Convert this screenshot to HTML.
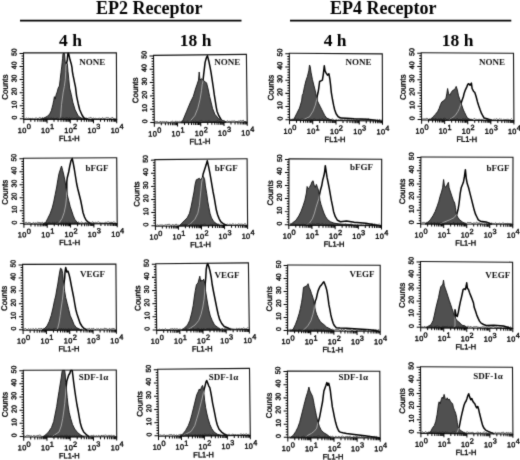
<!DOCTYPE html><html><head><meta charset="utf-8"><style>html,body{margin:0;padding:0;background:#fff;width:520px;height:460px;overflow:hidden}svg{display:block}</style></head><body>
<svg width="520" height="460" viewBox="0 0 520 460">
<defs><filter id="bl" x="0" y="0" width="520" height="460" filterUnits="userSpaceOnUse" color-interpolation-filters="sRGB"><feConvolveMatrix order="3" kernelMatrix="0.0200 0.0900 0.0200 0.0900 0.5600 0.0900 0.0200 0.0900 0.0200" edgeMode="duplicate"/></filter></defs>
<g filter="url(#bl)"><rect width="520" height="460" fill="#fff"/>
<defs>
<clipPath id="c00"><path d="M40 119.35 L41.1 119.3 L44.3 117.9 L47.4 116.3 L49.7 114 L51.3 110.8 L52.1 107.7 L52.9 104.6 L53.7 100.7 L54.4 96.7 L55.2 99.1 L56 95.2 L57.2 92 L58.2 88.1 L59.4 86 L60.2 79.4 L61 72.4 L61.8 66.1 L62.2 62.2 L62.6 58.3 L63 53.5 L64.5 53.5 L65.2 62 L65.8 63.7 L67.3 63.7 L68 71.6 L68.8 79.4 L69.6 88 L71.3 94.6 L72.8 102.2 L75.1 109.8 L78.2 115.9 L82 118.8 L85 119.35Z"/></clipPath>
<clipPath id="c01"><path d="M181 122.71 L183 120.1 L186.7 111.2 L190.4 102.3 L193.3 96.4 L195.5 89 L197 84.6 L198.5 80.1 L199.2 72 L200 80.1 L201.5 78.7 L203.7 80.9 L205.1 81.6 L206.6 83.1 L208.1 89 L209.6 96.4 L211.1 102.3 L212.5 108.3 L214.8 114.2 L218.5 118.6 L222.9 120.8 L226 122.23Z"/></clipPath>
<clipPath id="c02"><path d="M290 120.3 L293.7 119.6 L296.6 113.8 L299.5 108.1 L301.6 100.9 L302.3 95.2 L303.1 93.7 L304.5 86.6 L305.9 80.8 L307.4 76.5 L308.8 70.8 L309.5 65 L310.2 66.5 L311 72.2 L312.4 79.4 L313.8 85.1 L315.3 90.9 L316.4 96.6 L317.4 100.9 L318.8 103.8 L320.3 106.7 L321.7 109.5 L323.2 112.4 L324.6 115.3 L326.7 118.1 L330 119.5 L334 120.59Z"/></clipPath>
<clipPath id="c03"><path d="M428 120.04 L430.4 119.4 L433.1 116.7 L435.8 114 L437.8 111.3 L439.1 108.6 L440.5 104.6 L441.8 101.9 L443.8 100.6 L445.9 98.6 L446.8 93.8 L447.6 88.5 L448.6 93.8 L449.9 95.2 L451.2 92.5 L452.6 90.5 L453.9 89.8 L455.3 88.5 L456.2 86.4 L457.3 89.8 L458.4 95.2 L459.7 99.2 L460.7 101.9 L462 106 L463.4 110 L464.7 112.7 L466 115.4 L467.4 118.1 L470 119.5 L473 120.33Z"/></clipPath>
<clipPath id="c10"><path d="M43 224 L45.5 223 L47.7 218.5 L50 214 L52.2 208 L53.7 202 L55.2 194.5 L56.7 187 L57.9 179.5 L59 173.5 L60.5 169 L61.5 166 L62.7 170.5 L63.8 175 L65 181 L66.2 188.5 L67.2 194.5 L68.7 200.5 L70.2 206.5 L71.7 211 L73.2 215.5 L74.7 219.2 L77 222.2 L80 223.8Z"/></clipPath>
<clipPath id="c11"><path d="M179 225.97 L181.1 224 L184.1 220.9 L187.2 217.9 L189.5 213.3 L191 207.2 L192.5 199.6 L194 192 L195.1 184.4 L196.3 179.8 L197.8 179.1 L199.4 178.3 L200.9 179.8 L202.4 177.5 L203.6 176.8 L204.7 179.8 L205.4 185.9 L206.7 193.5 L207.7 201.1 L208.8 207.2 L210 213.3 L211.5 217.9 L213.8 221.7 L216.9 224 L220 225.57Z"/></clipPath>
<clipPath id="c12"><path d="M290 225.21 L292.3 223.1 L295.9 220.3 L298.8 216 L300.9 211.7 L303.1 205.9 L304.9 200.2 L306.4 193 L307.1 186.5 L308.1 188.7 L309.5 187.3 L311 184.4 L312.1 181.5 L313.1 180.8 L314.1 185.1 L315.3 187.3 L316.4 184.4 L317.4 187.3 L318.4 190.1 L319.3 194.4 L319.9 200.2 L321 204.5 L322.4 208.8 L323.9 213.1 L325.6 216.7 L327.5 219.5 L330.3 221.7 L333.9 223.1 L340 224 L350 224.5 L356 225.49Z"/></clipPath>
<clipPath id="c13"><path d="M425 224.01 L427.6 222.6 L430.3 219.8 L433.1 215.6 L435.2 211.5 L437.3 205.9 L438.7 201.7 L440.1 196.2 L441.5 192 L442.6 187.8 L443.6 179.5 L444.5 186.4 L445.9 187.1 L447 185 L448.4 182.3 L449.1 187.8 L450.5 192 L451.9 196.2 L453.3 200.3 L454.7 203.1 L455.4 207.3 L456.1 212.9 L457.5 217 L459.6 219.8 L462.3 221.9 L466 224.15Z"/></clipPath>
<clipPath id="c20"><path d="M42 330.24 L44 329 L47 326 L49.2 321.5 L51.2 315.5 L53 308 L54.5 300.5 L55.7 296 L56.7 290 L57.8 284 L58.7 278 L59.7 272 L60.5 268.2 L61.7 269 L62.7 273.5 L63.2 279.5 L63.8 285.5 L64.7 291.5 L65.7 297.5 L67.2 303.5 L68.7 309.5 L70.2 315.5 L72.2 320 L74 324.5 L76.2 327.5 L79.2 329 L82 330.11Z"/></clipPath>
<clipPath id="c21"><path d="M182 330.18 L184.5 328 L187.5 325 L189.7 320.5 L191.7 313 L193.2 305.5 L194.2 298 L195.3 290.5 L196.5 284.5 L198 283 L199.2 278.5 L199.8 276.2 L200.7 281.5 L201.7 280 L202.8 280.7 L203.7 279.2 L204.7 283 L205.5 290.5 L206.7 298 L207.7 304 L208.8 310 L210.3 316 L212.2 320.5 L214.5 325 L217.5 327.2 L221 329.84Z"/></clipPath>
<clipPath id="c22"><path d="M290 330.91 L293 329.5 L295.4 324.6 L297.3 319.6 L299.2 313.4 L300.4 308.5 L301.6 302.3 L302.6 296.1 L303.1 291.1 L303.5 287.4 L304.7 286.8 L306 286.2 L307.2 285.5 L308.1 283.7 L309.1 287.4 L310.3 289.9 L311.5 293.6 L312.8 297.3 L313.8 301 L314.6 306 L315.5 310.9 L316.7 314.7 L318.4 318.4 L320.2 321.5 L322.1 323.3 L323.9 324.6 L326.4 327 L330.1 328.9 L334 331.05Z"/></clipPath>
<clipPath id="c23"><path d="M426 327.74 L428.4 326.5 L431.1 324.5 L433.1 320.5 L434.4 315.1 L435.8 308.3 L437.1 303 L438.5 297.6 L439.8 290.8 L440.8 286.8 L441.8 285.5 L442.9 284.1 L443.5 280.1 L444.3 285.5 L445.2 288.2 L446.6 292.2 L447.9 296.2 L449.2 300.3 L450.6 304.3 L451.9 308.3 L453.3 312.4 L454.6 316.4 L456 319.1 L457.3 321.1 L458.7 321.8 L460 323.1 L462 325.2 L464.7 325.8 L468 328.06Z"/></clipPath>
<clipPath id="c30"><path d="M43 436.96 L45.5 435 L48.5 432 L51.5 427.5 L53.7 421.5 L55.2 414 L56.7 406.5 L57.8 399 L59 391.5 L60.2 384 L61.2 378 L62 372 L62.4 370.42 L64.7 370.41 L65.3 375 L65.7 382.5 L66.5 390 L67.2 397.5 L68 405 L69.2 412.5 L70.7 418.5 L72.5 424.5 L74.7 429 L77.7 432.7 L80.7 435 L84 436.87Z"/></clipPath>
<clipPath id="c31"><path d="M180 436.09 L182.7 434.2 L185.5 430.7 L188.3 425.7 L190.4 420.1 L191.9 414.4 L193.3 408.8 L194.7 403.1 L195.7 398.9 L196.8 394.6 L198.2 391.8 L199.3 389 L200.3 390.4 L201.3 387.6 L202.5 385.4 L203.2 387.6 L203.9 393.2 L204.6 400.3 L205.6 407.4 L206.7 413 L208.1 418.7 L209.8 424.3 L211.7 428.6 L214.1 432.1 L217.3 434.2 L221 435.69Z"/></clipPath>
<clipPath id="c32"><path d="M290 437.8 L293.2 435.4 L295.8 431.5 L297.8 427.5 L299.7 422.3 L301 417.1 L302.3 411.9 L303.6 406.7 L304.9 401.5 L306.3 396.3 L307.6 392.3 L308.9 387.1 L309.9 391 L311.2 393.6 L312.5 396.3 L313.4 400.2 L314.3 405.4 L315.4 410.6 L316.4 415.8 L317.7 421 L319.3 426.2 L321.2 430.2 L323.9 432.8 L327.1 434.7 L331 437.85Z"/></clipPath>
<clipPath id="c33"><path d="M427 433.44 L430.4 432.1 L432.4 428.1 L434.4 425.4 L435.8 421.3 L437.1 414.6 L437.8 409.2 L438.5 403.8 L439.1 401.8 L440.1 403.8 L441.2 399.8 L442.2 397.1 L443.2 398.5 L444.1 394.4 L445.2 398.5 L446.3 399.8 L447.2 397.8 L448.1 399.8 L449.2 399.1 L450.3 401.2 L451.4 402.5 L452.6 403.8 L453.5 407.9 L454.6 410.6 L455.7 413.3 L456.6 417.3 L457.3 422.7 L458 426.7 L459.3 429.4 L462 431.4 L466 433.69Z"/></clipPath>
</defs>
<text x="96" y="14" style="font-family:&quot;Liberation Serif&quot;,serif;font-weight:bold;font-size:18px" fill="#000">EP2 Receptor</text>
<text x="330" y="14" style="font-family:&quot;Liberation Serif&quot;,serif;font-weight:bold;font-size:18px" fill="#000">EP4 Receptor</text>
<path d="M20 20.6H241.5M290 20.6H511.3" stroke="#000" stroke-width="1.7"/>
<text x="59.1" y="46.2" style="font-family:&quot;Liberation Serif&quot;,serif;font-weight:bold;font-size:17.5px" fill="#000">4 h</text>
<text x="179.8" y="46.2" style="font-family:&quot;Liberation Serif&quot;,serif;font-weight:bold;font-size:17.5px" fill="#000">18 h</text>
<text x="323.7" y="46.2" style="font-family:&quot;Liberation Serif&quot;,serif;font-weight:bold;font-size:17.5px" fill="#000">4 h</text>
<text x="441.8" y="46.2" style="font-family:&quot;Liberation Serif&quot;,serif;font-weight:bold;font-size:17.5px" fill="#000">18 h</text>
<g><path d="M57 119.35 L59.5 118.8 L60.7 116.3 L61.5 104.6 L63.1 92.8 L64.3 86.5 L65.3 79.4 L65.7 71.6 L65.9 66.1 L66.5 63.7 L67.3 60 L67.6 56 L68 53.3 L68.6 53.3 L70 59.8 L71.2 63.7 L72 67.7 L72.4 71.6 L73.1 75.5 L73.9 79.4 L74.7 83.3 L75.5 87.2 L76.6 96.1 L78.2 103.7 L79.7 109.8 L82 115 L84.25 118.5 L88 119.35" fill="none" stroke="#000" stroke-width="1.5" stroke-linejoin="round"/><path d="M40 119.35 L41.1 119.3 L44.3 117.9 L47.4 116.3 L49.7 114 L51.3 110.8 L52.1 107.7 L52.9 104.6 L53.7 100.7 L54.4 96.7 L55.2 99.1 L56 95.2 L57.2 92 L58.2 88.1 L59.4 86 L60.2 79.4 L61 72.4 L61.8 66.1 L62.2 62.2 L62.6 58.3 L63 53.5 L64.5 53.5 L65.2 62 L65.8 63.7 L67.3 63.7 L68 71.6 L68.8 79.4 L69.6 88 L71.3 94.6 L72.8 102.2 L75.1 109.8 L78.2 115.9 L82 118.8 L85 119.35Z" fill="#505050" stroke="#111" stroke-width="0.9" stroke-linejoin="round"/><path d="M57 119.35 L59.5 118.8 L60.7 116.3 L61.5 104.6 L63.1 92.8 L64.3 86.5 L65.3 79.4 L65.7 71.6 L65.9 66.1 L66.5 63.7 L67.3 60 L67.6 56 L68 53.3 L68.6 53.3 L70 59.8 L71.2 63.7 L72 67.7 L72.4 71.6 L73.1 75.5 L73.9 79.4 L74.7 83.3 L75.5 87.2 L76.6 96.1 L78.2 103.7 L79.7 109.8 L82 115 L84.25 118.5 L88 119.35" fill="none" stroke="#bdbdbd" stroke-width="0.8" clip-path="url(#c00)"/><path d="M24.6 118.46 L25.5 118.72 L26.4 117.97 L27.3 118.84 L28.2 118.15 L29.1 118.4 L30 118.86 L30.9 118.19 L31.8 118.89 L32.7 118.3 L33.6 118.85 L34.5 118.81 L35.4 118.31 L36.3 117.71 L37.2 118.76 L38.1 118.62 L39 118.01 L39.9 117.53 L40.8 118.08 L41.7 118.35 L42.6 117.49 L43.5 118.88 L44.4 117.66 L45.3 118.52 L46.2 118.73 L47.1 118.77 L48 118.49 L48.9 117.73 L49.8 118.68 L50.7 118.08 L51.6 117.99 L52.5 118.39 L53.4 118.13 L54.3 118.86 L55.2 118.86 L56.1 118.64 L57 117.93 L57.9 118.31 L58.8 118.48 L59.7 118.07 L60.6 118.27 L61.5 118.5 L62.4 117.76 L63.3 117.9 L64.2 118.58 L65.1 118.09 L66 118.16 L66.9 117.64 L67.8 117.86 L68.7 118.52 L69.6 117.48 L70.5 118.77 L71.4 118.32 L72.3 117.81 L73.2 118.72 L74.1 118.22 L75 118.89 L75.9 117.95 L76.8 117.8 L77.7 118.09 L78.6 117.64 L79.5 118.48 L80.4 117.91 L81.3 118.06 L82.2 118.08 L83.1 118.27 L84 117.69 L84.9 117.53 L85.8 118.24 L86.7 117.95 L87.6 118.86 L88.5 117.9 L89.4 117.98 L90.3 117.46 L91.2 117.72 L92.1 118.52 L93 118.37 L93.9 117.95 L94.8 118.92 L95.7 118.26 L96.6 118.7 L97.5 118.77 L98.4 118.86 L99.3 117.8 L100.2 118.76 L101.1 118.58 L102 118.36 L102.9 117.64 L103.8 118.83 L104.7 118.28 L105.6 118.13 L106.5 117.62 L107.4 117.72 L108.3 117.65 L109.2 118.53 L110.1 118.33 L111 118.41 L111.9 117.62 L112.8 117.51 L113.7 118.72 L114.6 118.69 L115.5 118.6" fill="none" stroke="#222" stroke-width="0.7"/></g>
<g transform="matrix(1.00216 0.00000 0.00451 0.99925 23.50000 52.90000)"><rect x="0" y="0" width="92.7" height="66.5" fill="none" stroke="#111" stroke-width="1.1"/><path d="M-4 66H0M-2 63.38H0M-2 60.76H0M-2 58.14H0M-2 55.52H0M-4 52.9H0M-2 50.28H0M-2 47.66H0M-2 45.04H0M-2 42.42H0M-4 39.8H0M-2 37.18H0M-2 34.56H0M-2 31.94H0M-2 29.32H0M-4 26.7H0M-2 24.08H0M-2 21.46H0M-2 18.84H0M-2 16.22H0M-4 13.6H0M-2 10.98H0M-2 8.36H0M-2 5.74H0M-2 3.12H0M-4 0.5H0M0 66.5V70.3M6.98 66.5V68.9M11.06 66.5V68.9M13.95 66.5V68.9M16.2 66.5V68.9M18.03 66.5V68.9M19.59 66.5V68.9M20.93 66.5V68.9M22.11 66.5V68.9M23.18 66.5V70.3M30.15 66.5V68.9M34.23 66.5V68.9M37.13 66.5V68.9M39.37 66.5V68.9M41.21 66.5V68.9M42.76 66.5V68.9M44.1 66.5V68.9M45.29 66.5V68.9M46.35 66.5V70.3M53.33 66.5V68.9M57.41 66.5V68.9M60.3 66.5V68.9M62.55 66.5V68.9M64.38 66.5V68.9M65.94 66.5V68.9M67.28 66.5V68.9M68.46 66.5V68.9M69.53 66.5V70.3M76.5 66.5V68.9M80.58 66.5V68.9M83.48 66.5V68.9M85.72 66.5V68.9M87.56 66.5V68.9M89.11 66.5V68.9M90.45 66.5V68.9M91.64 66.5V68.9M92.7 66.5V70.3" stroke="#000" stroke-width="1" fill="none"/><text transform="translate(-7.1 64.8) rotate(-90)" text-anchor="middle" style="font-family:&quot;Liberation Sans&quot;,sans-serif;stroke:#000;stroke-width:0.35px;font-size:7px" fill="#000">0</text><text transform="translate(-7.1 51.7) rotate(-90)" text-anchor="middle" style="font-family:&quot;Liberation Sans&quot;,sans-serif;stroke:#000;stroke-width:0.35px;font-size:7px" fill="#000">10</text><text transform="translate(-7.1 38.6) rotate(-90)" text-anchor="middle" style="font-family:&quot;Liberation Sans&quot;,sans-serif;stroke:#000;stroke-width:0.35px;font-size:7px" fill="#000">20</text><text transform="translate(-7.1 25.5) rotate(-90)" text-anchor="middle" style="font-family:&quot;Liberation Sans&quot;,sans-serif;stroke:#000;stroke-width:0.35px;font-size:7px" fill="#000">30</text><text transform="translate(-7.1 12.4) rotate(-90)" text-anchor="middle" style="font-family:&quot;Liberation Sans&quot;,sans-serif;stroke:#000;stroke-width:0.35px;font-size:7px" fill="#000">40</text><text transform="translate(-7.1 -0.7) rotate(-90)" text-anchor="middle" style="font-family:&quot;Liberation Sans&quot;,sans-serif;stroke:#000;stroke-width:0.35px;font-size:7px" fill="#000">50</text><text transform="translate(-15.9 34.25) rotate(-90)" text-anchor="middle" style="font-family:&quot;Liberation Sans&quot;,sans-serif;stroke:#000;stroke-width:0.35px;font-size:8px" fill="#000">Counts</text><text x="0.6" y="79.8" text-anchor="middle" style="font-family:&quot;Liberation Sans&quot;,sans-serif;stroke:#000;stroke-width:0.35px;font-size:7.4px;letter-spacing:0.35px" fill="#000">10<tspan dy="-3.6">0</tspan></text><text x="23.78" y="79.8" text-anchor="middle" style="font-family:&quot;Liberation Sans&quot;,sans-serif;stroke:#000;stroke-width:0.35px;font-size:7.4px;letter-spacing:0.35px" fill="#000">10<tspan dy="-3.6">1</tspan></text><text x="46.95" y="79.8" text-anchor="middle" style="font-family:&quot;Liberation Sans&quot;,sans-serif;stroke:#000;stroke-width:0.35px;font-size:7.4px;letter-spacing:0.35px" fill="#000">10<tspan dy="-3.6">2</tspan></text><text x="70.12" y="79.8" text-anchor="middle" style="font-family:&quot;Liberation Sans&quot;,sans-serif;stroke:#000;stroke-width:0.35px;font-size:7.4px;letter-spacing:0.35px" fill="#000">10<tspan dy="-3.6">3</tspan></text><text x="93.3" y="79.8" text-anchor="middle" style="font-family:&quot;Liberation Sans&quot;,sans-serif;stroke:#000;stroke-width:0.35px;font-size:7.4px;letter-spacing:0.35px" fill="#000">10<tspan dy="-3.6">4</tspan></text><text x="45.35" y="87.8" text-anchor="middle" style="font-family:&quot;Liberation Sans&quot;,sans-serif;stroke:#000;stroke-width:0.35px;font-size:7.5px" fill="#000">FL1-H</text></g>
<text x="79.2" y="65" style="font-family:&quot;Liberation Serif&quot;,serif;font-weight:bold;font-size:9px" fill="#111">NONE</text>
<g><path d="M188 122.64 L190.4 120.8 L194.8 115.7 L197.8 108.3 L200 99.4 L201.5 90.5 L202.2 84.6 L202.9 81.6 L203.7 74.2 L204.4 68.3 L205.1 62.4 L206.3 58 L207.4 55.7 L208.8 60.9 L210.3 68.3 L211.1 72.8 L212.2 80.1 L213.3 87.5 L214.3 94.9 L215.5 102.3 L216.2 106.8 L217 111.2 L218.8 115.7 L221.4 120.1 L225 122.24" fill="none" stroke="#000" stroke-width="1.5" stroke-linejoin="round"/><path d="M181 122.71 L183 120.1 L186.7 111.2 L190.4 102.3 L193.3 96.4 L195.5 89 L197 84.6 L198.5 80.1 L199.2 72 L200 80.1 L201.5 78.7 L203.7 80.9 L205.1 81.6 L206.6 83.1 L208.1 89 L209.6 96.4 L211.1 102.3 L212.5 108.3 L214.8 114.2 L218.5 118.6 L222.9 120.8 L226 122.23Z" fill="#505050" stroke="#111" stroke-width="0.9" stroke-linejoin="round"/><path d="M188 122.64 L190.4 120.8 L194.8 115.7 L197.8 108.3 L200 99.4 L201.5 90.5 L202.2 84.6 L202.9 81.6 L203.7 74.2 L204.4 68.3 L205.1 62.4 L206.3 58 L207.4 55.7 L208.8 60.9 L210.3 68.3 L211.1 72.8 L212.2 80.1 L213.3 87.5 L214.3 94.9 L215.5 102.3 L216.2 106.8 L217 111.2 L218.8 115.7 L221.4 120.1 L225 122.24" fill="none" stroke="#bdbdbd" stroke-width="0.8" clip-path="url(#c01)"/><path d="M155.1 122.25 L156 121.14 L156.9 122.38 L157.8 121.51 L158.7 122.42 L159.6 122.17 L160.5 121.03 L161.4 122.21 L162.3 121.55 L163.2 121.82 L164.1 121.81 L165 121.74 L165.9 122.19 L166.8 121.22 L167.7 122.32 L168.6 122.09 L169.5 122.41 L170.4 122.03 L171.3 121.81 L172.2 121.05 L173.1 121.83 L174 122.22 L174.9 121.99 L175.8 120.88 L176.7 122.26 L177.6 121.42 L178.5 121.77 L179.4 121.34 L180.3 121.81 L181.2 121.27 L182.1 121.55 L183 121.32 L183.9 120.93 L184.8 121.4 L185.7 122.05 L186.6 122.16 L187.5 120.82 L188.4 121.5 L189.3 121.93 L190.2 120.79 L191.1 121.34 L192 121.1 L192.9 120.86 L193.8 121.75 L194.7 121.63 L195.6 120.84 L196.5 121.94 L197.4 120.99 L198.3 121.98 L199.2 121.08 L200.1 121.05 L201 120.67 L201.9 120.82 L202.8 121.32 L203.7 121.77 L204.6 121.83 L205.5 121.26 L206.4 121.27 L207.3 121.92 L208.2 120.66 L209.1 121.25 L210 120.95 L210.9 121.66 L211.8 121.62 L212.7 121.95 L213.6 121.45 L214.5 121.55 L215.4 121.31 L216.3 121.37 L217.2 120.67 L218.1 120.58 L219 121.64 L219.9 121.3 L220.8 121.63 L221.7 120.88 L222.6 120.4 L223.5 121.55 L224.4 120.7 L225.3 121.39 L226.2 121.81 L227.1 120.67 L228 121.29 L228.9 121.54 L229.8 121.13 L230.7 121.43 L231.6 121.15 L232.5 121.09 L233.4 121.12 L234.3 120.86 L235.2 121.3 L236.1 121.58 L237 121.58 L237.9 121.54 L238.8 120.91 L239.7 121.14 L240.6 120.46 L241.5 120.9 L242.4 120.59 L243.3 120.17 L244.2 121.54 L245.1 121.6 L246 121.4" fill="none" stroke="#222" stroke-width="0.7"/></g>
<g transform="matrix(1.00216 -0.01079 0.01203 1.01654 153.50000 55.40000)"><rect x="0" y="0" width="92.7" height="66.5" fill="none" stroke="#111" stroke-width="1.1"/><path d="M-4 66H0M-2 63.38H0M-2 60.76H0M-2 58.14H0M-2 55.52H0M-4 52.9H0M-2 50.28H0M-2 47.66H0M-2 45.04H0M-2 42.42H0M-4 39.8H0M-2 37.18H0M-2 34.56H0M-2 31.94H0M-2 29.32H0M-4 26.7H0M-2 24.08H0M-2 21.46H0M-2 18.84H0M-2 16.22H0M-4 13.6H0M-2 10.98H0M-2 8.36H0M-2 5.74H0M-2 3.12H0M-4 0.5H0M0 66.5V70.3M6.98 66.5V68.9M11.06 66.5V68.9M13.95 66.5V68.9M16.2 66.5V68.9M18.03 66.5V68.9M19.59 66.5V68.9M20.93 66.5V68.9M22.11 66.5V68.9M23.18 66.5V70.3M30.15 66.5V68.9M34.23 66.5V68.9M37.13 66.5V68.9M39.37 66.5V68.9M41.21 66.5V68.9M42.76 66.5V68.9M44.1 66.5V68.9M45.29 66.5V68.9M46.35 66.5V70.3M53.33 66.5V68.9M57.41 66.5V68.9M60.3 66.5V68.9M62.55 66.5V68.9M64.38 66.5V68.9M65.94 66.5V68.9M67.28 66.5V68.9M68.46 66.5V68.9M69.53 66.5V70.3M76.5 66.5V68.9M80.58 66.5V68.9M83.48 66.5V68.9M85.72 66.5V68.9M87.56 66.5V68.9M89.11 66.5V68.9M90.45 66.5V68.9M91.64 66.5V68.9M92.7 66.5V70.3" stroke="#000" stroke-width="1" fill="none"/><text transform="translate(-7.1 64.8) rotate(-90)" text-anchor="middle" style="font-family:&quot;Liberation Sans&quot;,sans-serif;stroke:#000;stroke-width:0.35px;font-size:7px" fill="#000">0</text><text transform="translate(-7.1 51.7) rotate(-90)" text-anchor="middle" style="font-family:&quot;Liberation Sans&quot;,sans-serif;stroke:#000;stroke-width:0.35px;font-size:7px" fill="#000">10</text><text transform="translate(-7.1 38.6) rotate(-90)" text-anchor="middle" style="font-family:&quot;Liberation Sans&quot;,sans-serif;stroke:#000;stroke-width:0.35px;font-size:7px" fill="#000">20</text><text transform="translate(-7.1 25.5) rotate(-90)" text-anchor="middle" style="font-family:&quot;Liberation Sans&quot;,sans-serif;stroke:#000;stroke-width:0.35px;font-size:7px" fill="#000">30</text><text transform="translate(-7.1 12.4) rotate(-90)" text-anchor="middle" style="font-family:&quot;Liberation Sans&quot;,sans-serif;stroke:#000;stroke-width:0.35px;font-size:7px" fill="#000">40</text><text transform="translate(-7.1 -0.7) rotate(-90)" text-anchor="middle" style="font-family:&quot;Liberation Sans&quot;,sans-serif;stroke:#000;stroke-width:0.35px;font-size:7px" fill="#000">50</text><text transform="translate(-15.9 34.25) rotate(-90)" text-anchor="middle" style="font-family:&quot;Liberation Sans&quot;,sans-serif;stroke:#000;stroke-width:0.35px;font-size:8px" fill="#000">Counts</text><text x="0.6" y="79.8" text-anchor="middle" style="font-family:&quot;Liberation Sans&quot;,sans-serif;stroke:#000;stroke-width:0.35px;font-size:7.4px;letter-spacing:0.35px" fill="#000">10<tspan dy="-3.6">0</tspan></text><text x="23.78" y="79.8" text-anchor="middle" style="font-family:&quot;Liberation Sans&quot;,sans-serif;stroke:#000;stroke-width:0.35px;font-size:7.4px;letter-spacing:0.35px" fill="#000">10<tspan dy="-3.6">1</tspan></text><text x="46.95" y="79.8" text-anchor="middle" style="font-family:&quot;Liberation Sans&quot;,sans-serif;stroke:#000;stroke-width:0.35px;font-size:7.4px;letter-spacing:0.35px" fill="#000">10<tspan dy="-3.6">2</tspan></text><text x="70.12" y="79.8" text-anchor="middle" style="font-family:&quot;Liberation Sans&quot;,sans-serif;stroke:#000;stroke-width:0.35px;font-size:7.4px;letter-spacing:0.35px" fill="#000">10<tspan dy="-3.6">3</tspan></text><text x="93.3" y="79.8" text-anchor="middle" style="font-family:&quot;Liberation Sans&quot;,sans-serif;stroke:#000;stroke-width:0.35px;font-size:7.4px;letter-spacing:0.35px" fill="#000">10<tspan dy="-3.6">4</tspan></text><text x="45.35" y="87.8" text-anchor="middle" style="font-family:&quot;Liberation Sans&quot;,sans-serif;stroke:#000;stroke-width:0.35px;font-size:7.5px" fill="#000">FL1-H</text></g>
<text x="214.2" y="64.6" style="font-family:&quot;Liberation Serif&quot;,serif;font-weight:bold;font-size:9px" fill="#111">NONE</text>
<g><path d="M300 120.37 L303.8 119.6 L309.5 116.7 L313.1 111 L315.3 105.2 L316.7 99.5 L317.4 95.2 L318.1 92.3 L318.8 88 L319.6 81.5 L321 80.8 L322.4 80.1 L323.2 75.1 L323.9 69.3 L324.3 65.8 L325 70.8 L326 72.9 L327.5 75.1 L328.9 73.7 L329.9 79.4 L330.6 85.1 L331.3 92.3 L332.5 99.5 L333.6 105.2 L334.6 109.5 L336.1 113.8 L338.2 116.7 L341.1 118.1 L346.5 118.3 L354.2 118.8 L367.7 119.2 L380 120.88" fill="none" stroke="#000" stroke-width="1.5" stroke-linejoin="round"/><path d="M290 120.3 L293.7 119.6 L296.6 113.8 L299.5 108.1 L301.6 100.9 L302.3 95.2 L303.1 93.7 L304.5 86.6 L305.9 80.8 L307.4 76.5 L308.8 70.8 L309.5 65 L310.2 66.5 L311 72.2 L312.4 79.4 L313.8 85.1 L315.3 90.9 L316.4 96.6 L317.4 100.9 L318.8 103.8 L320.3 106.7 L321.7 109.5 L323.2 112.4 L324.6 115.3 L326.7 118.1 L330 119.5 L334 120.59Z" fill="#505050" stroke="#111" stroke-width="0.9" stroke-linejoin="round"/><path d="M300 120.37 L303.8 119.6 L309.5 116.7 L313.1 111 L315.3 105.2 L316.7 99.5 L317.4 95.2 L318.1 92.3 L318.8 88 L319.6 81.5 L321 80.8 L322.4 80.1 L323.2 75.1 L323.9 69.3 L324.3 65.8 L325 70.8 L326 72.9 L327.5 75.1 L328.9 73.7 L329.9 79.4 L330.6 85.1 L331.3 92.3 L332.5 99.5 L333.6 105.2 L334.6 109.5 L336.1 113.8 L338.2 116.7 L341.1 118.1 L346.5 118.3 L354.2 118.8 L367.7 119.2 L380 120.88" fill="none" stroke="#bdbdbd" stroke-width="0.8" clip-path="url(#c02)"/><path d="M290.3 119.21 L291.2 119.35 L292.1 119.71 L293 118.62 L293.9 119.92 L294.8 119.18 L295.7 118.59 L296.6 119.82 L297.5 119.12 L298.4 119.03 L299.3 119.9 L300.2 119.4 L301.1 118.92 L302 119.3 L302.9 118.9 L303.8 119.76 L304.7 119.64 L305.6 119.84 L306.5 119.25 L307.4 118.63 L308.3 119.14 L309.2 118.87 L310.1 119.46 L311 118.92 L311.9 119.89 L312.8 119.61 L313.7 119.04 L314.6 118.97 L315.5 119.44 L316.4 119.94 L317.3 119.68 L318.2 119.77 L319.1 119.67 L320 118.88 L320.9 119.8 L321.8 118.78 L322.7 118.8 L323.6 120.04 L324.5 119.56 L325.4 119.39 L326.3 120.1 L327.2 119.51 L328.1 118.79 L329 119.99 L329.9 119.27 L330.8 119.98 L331.7 119.3 L332.6 118.84 L333.5 119.88 L334.4 120.18 L335.3 120.07 L336.2 119.39 L337.1 120.18 L338 120.09 L338.9 119.47 L339.8 118.84 L340.7 119.6 L341.6 119.64 L342.5 119.28 L343.4 120.11 L344.3 119.38 L345.2 120 L346.1 119.35 L347 118.83 L347.9 120.2 L348.8 119.45 L349.7 119.38 L350.6 120.07 L351.5 119.9 L352.4 118.81 L353.3 118.81 L354.2 120.14 L355.1 119.27 L356 118.9 L356.9 119.98 L357.8 119.42 L358.7 120.28 L359.6 119.8 L360.5 119.35 L361.4 119.48 L362.3 119.21 L363.2 120.25 L364.1 119.86 L365 119.09 L365.9 119.52 L366.8 119.72 L367.7 119.8 L368.6 118.93 L369.5 119.55 L370.4 120.39 L371.3 119.23 L372.2 119.94 L373.1 119.79 L374 120.13 L374.9 119.78 L375.8 119.97 L376.7 120.33 L377.6 119.52 L378.5 120.32 L379.4 119.3 L380.3 120.45 L381.2 119.32" fill="none" stroke="#222" stroke-width="0.7"/></g>
<g transform="matrix(1.00324 0.00647 0.00301 1.00752 289.30000 53.30000)"><rect x="0" y="0" width="92.7" height="66.5" fill="none" stroke="#111" stroke-width="1.1"/><path d="M-4 66H0M-2 63.38H0M-2 60.76H0M-2 58.14H0M-2 55.52H0M-4 52.9H0M-2 50.28H0M-2 47.66H0M-2 45.04H0M-2 42.42H0M-4 39.8H0M-2 37.18H0M-2 34.56H0M-2 31.94H0M-2 29.32H0M-4 26.7H0M-2 24.08H0M-2 21.46H0M-2 18.84H0M-2 16.22H0M-4 13.6H0M-2 10.98H0M-2 8.36H0M-2 5.74H0M-2 3.12H0M-4 0.5H0M0 66.5V70.3M6.98 66.5V68.9M11.06 66.5V68.9M13.95 66.5V68.9M16.2 66.5V68.9M18.03 66.5V68.9M19.59 66.5V68.9M20.93 66.5V68.9M22.11 66.5V68.9M23.18 66.5V70.3M30.15 66.5V68.9M34.23 66.5V68.9M37.13 66.5V68.9M39.37 66.5V68.9M41.21 66.5V68.9M42.76 66.5V68.9M44.1 66.5V68.9M45.29 66.5V68.9M46.35 66.5V70.3M53.33 66.5V68.9M57.41 66.5V68.9M60.3 66.5V68.9M62.55 66.5V68.9M64.38 66.5V68.9M65.94 66.5V68.9M67.28 66.5V68.9M68.46 66.5V68.9M69.53 66.5V70.3M76.5 66.5V68.9M80.58 66.5V68.9M83.48 66.5V68.9M85.72 66.5V68.9M87.56 66.5V68.9M89.11 66.5V68.9M90.45 66.5V68.9M91.64 66.5V68.9M92.7 66.5V70.3" stroke="#000" stroke-width="1" fill="none"/><text transform="translate(-7.1 64.8) rotate(-90)" text-anchor="middle" style="font-family:&quot;Liberation Sans&quot;,sans-serif;stroke:#000;stroke-width:0.35px;font-size:7px" fill="#000">0</text><text transform="translate(-7.1 51.7) rotate(-90)" text-anchor="middle" style="font-family:&quot;Liberation Sans&quot;,sans-serif;stroke:#000;stroke-width:0.35px;font-size:7px" fill="#000">10</text><text transform="translate(-7.1 38.6) rotate(-90)" text-anchor="middle" style="font-family:&quot;Liberation Sans&quot;,sans-serif;stroke:#000;stroke-width:0.35px;font-size:7px" fill="#000">20</text><text transform="translate(-7.1 25.5) rotate(-90)" text-anchor="middle" style="font-family:&quot;Liberation Sans&quot;,sans-serif;stroke:#000;stroke-width:0.35px;font-size:7px" fill="#000">30</text><text transform="translate(-7.1 12.4) rotate(-90)" text-anchor="middle" style="font-family:&quot;Liberation Sans&quot;,sans-serif;stroke:#000;stroke-width:0.35px;font-size:7px" fill="#000">40</text><text transform="translate(-7.1 -0.7) rotate(-90)" text-anchor="middle" style="font-family:&quot;Liberation Sans&quot;,sans-serif;stroke:#000;stroke-width:0.35px;font-size:7px" fill="#000">50</text><text transform="translate(-15.9 34.25) rotate(-90)" text-anchor="middle" style="font-family:&quot;Liberation Sans&quot;,sans-serif;stroke:#000;stroke-width:0.35px;font-size:8px" fill="#000">Counts</text><text x="0.6" y="79.8" text-anchor="middle" style="font-family:&quot;Liberation Sans&quot;,sans-serif;stroke:#000;stroke-width:0.35px;font-size:7.4px;letter-spacing:0.35px" fill="#000">10<tspan dy="-3.6">0</tspan></text><text x="23.78" y="79.8" text-anchor="middle" style="font-family:&quot;Liberation Sans&quot;,sans-serif;stroke:#000;stroke-width:0.35px;font-size:7.4px;letter-spacing:0.35px" fill="#000">10<tspan dy="-3.6">1</tspan></text><text x="46.95" y="79.8" text-anchor="middle" style="font-family:&quot;Liberation Sans&quot;,sans-serif;stroke:#000;stroke-width:0.35px;font-size:7.4px;letter-spacing:0.35px" fill="#000">10<tspan dy="-3.6">2</tspan></text><text x="70.12" y="79.8" text-anchor="middle" style="font-family:&quot;Liberation Sans&quot;,sans-serif;stroke:#000;stroke-width:0.35px;font-size:7.4px;letter-spacing:0.35px" fill="#000">10<tspan dy="-3.6">3</tspan></text><text x="93.3" y="79.8" text-anchor="middle" style="font-family:&quot;Liberation Sans&quot;,sans-serif;stroke:#000;stroke-width:0.35px;font-size:7.4px;letter-spacing:0.35px" fill="#000">10<tspan dy="-3.6">4</tspan></text><text x="45.35" y="87.8" text-anchor="middle" style="font-family:&quot;Liberation Sans&quot;,sans-serif;stroke:#000;stroke-width:0.35px;font-size:7.5px" fill="#000">FL1-H</text></g>
<text x="345.6" y="65" style="font-family:&quot;Liberation Serif&quot;,serif;font-weight:bold;font-size:9px" fill="#111">NONE</text>
<g><path d="M445 120.15 L447.9 120.1 L451.9 118.1 L455.3 115.4 L458 111.3 L459.3 108.6 L460.7 104.6 L462 100.6 L463.4 96.5 L464 93.8 L465.4 89.8 L466.7 87.1 L467.8 84.4 L468.7 83.7 L470.1 85.1 L471.4 83.1 L472.1 88.5 L473.5 91.2 L474.8 92.5 L476.1 96.5 L477.5 101.9 L478.8 106 L480.2 110 L481.5 113.4 L482.9 116 L484.2 118.1 L486.9 118.7 L492 120.46" fill="none" stroke="#000" stroke-width="1.5" stroke-linejoin="round"/><path d="M428 120.04 L430.4 119.4 L433.1 116.7 L435.8 114 L437.8 111.3 L439.1 108.6 L440.5 104.6 L441.8 101.9 L443.8 100.6 L445.9 98.6 L446.8 93.8 L447.6 88.5 L448.6 93.8 L449.9 95.2 L451.2 92.5 L452.6 90.5 L453.9 89.8 L455.3 88.5 L456.2 86.4 L457.3 89.8 L458.4 95.2 L459.7 99.2 L460.7 101.9 L462 106 L463.4 110 L464.7 112.7 L466 115.4 L467.4 118.1 L470 119.5 L473 120.33Z" fill="#505050" stroke="#111" stroke-width="0.9" stroke-linejoin="round"/><path d="M445 120.15 L447.9 120.1 L451.9 118.1 L455.3 115.4 L458 111.3 L459.3 108.6 L460.7 104.6 L462 100.6 L463.4 96.5 L464 93.8 L465.4 89.8 L466.7 87.1 L467.8 84.4 L468.7 83.7 L470.1 85.1 L471.4 83.1 L472.1 88.5 L473.5 91.2 L474.8 92.5 L476.1 96.5 L477.5 101.9 L478.8 106 L480.2 110 L481.5 113.4 L482.9 116 L484.2 118.1 L486.9 118.7 L492 120.46" fill="none" stroke="#bdbdbd" stroke-width="0.8" clip-path="url(#c03)"/><path d="M422.4 118.75 L423.3 118.97 L424.2 118.75 L425.1 119.31 L426 118.41 L426.9 118.4 L427.8 118.66 L428.7 119.41 L429.6 118.87 L430.5 119.17 L431.4 119.29 L432.3 118.24 L433.2 118.18 L434.1 119.61 L435 118.4 L435.9 118.79 L436.8 119.13 L437.7 119.28 L438.6 118.7 L439.5 119.03 L440.4 118.69 L441.3 118.74 L442.2 119.53 L443.1 118.59 L444 118.27 L444.9 118.3 L445.8 118.84 L446.7 119.7 L447.6 119.76 L448.5 119.57 L449.4 118.37 L450.3 119.33 L451.2 119.24 L452.1 118.45 L453 119.33 L453.9 118.99 L454.8 119.16 L455.7 119.72 L456.6 118.95 L457.5 118.57 L458.4 119.6 L459.3 119.51 L460.2 119.23 L461.1 119.8 L462 119.12 L462.9 118.64 L463.8 118.89 L464.7 119.08 L465.6 118.6 L466.5 119.67 L467.4 119.05 L468.3 119.34 L469.2 119.01 L470.1 119.75 L471 118.76 L471.9 119.78 L472.8 119.68 L473.7 118.73 L474.6 118.52 L475.5 119.3 L476.4 119.34 L477.3 119.59 L478.2 119.56 L479.1 119.05 L480 119.71 L480.9 119.81 L481.8 119.31 L482.7 119.75 L483.6 119.03 L484.5 118.78 L485.4 118.85 L486.3 119.3 L487.2 119.51 L488.1 119.38 L489 120.03 L489.9 118.98 L490.8 119.55 L491.7 119.58 L492.6 119.94 L493.5 119.4 L494.4 119.2 L495.3 119.49 L496.2 118.78 L497.1 119.08 L498 119.73 L498.9 119.31 L499.8 118.74 L500.7 119.33 L501.6 119.22 L502.5 120.03 L503.4 119.4 L504.3 119.45 L505.2 119.54 L506.1 119.52 L507 119.28 L507.9 119.35 L508.8 119.43 L509.7 119.92 L510.6 119.52 L511.5 118.73 L512.4 119.57" fill="none" stroke="#222" stroke-width="0.7"/></g>
<g transform="matrix(0.99569 0.00647 0.00602 1.01203 421.20000 52.70000)"><rect x="0" y="0" width="92.7" height="66.5" fill="none" stroke="#111" stroke-width="1.1"/><path d="M-4 66H0M-2 63.38H0M-2 60.76H0M-2 58.14H0M-2 55.52H0M-4 52.9H0M-2 50.28H0M-2 47.66H0M-2 45.04H0M-2 42.42H0M-4 39.8H0M-2 37.18H0M-2 34.56H0M-2 31.94H0M-2 29.32H0M-4 26.7H0M-2 24.08H0M-2 21.46H0M-2 18.84H0M-2 16.22H0M-4 13.6H0M-2 10.98H0M-2 8.36H0M-2 5.74H0M-2 3.12H0M-4 0.5H0M0 66.5V70.3M6.98 66.5V68.9M11.06 66.5V68.9M13.95 66.5V68.9M16.2 66.5V68.9M18.03 66.5V68.9M19.59 66.5V68.9M20.93 66.5V68.9M22.11 66.5V68.9M23.18 66.5V70.3M30.15 66.5V68.9M34.23 66.5V68.9M37.13 66.5V68.9M39.37 66.5V68.9M41.21 66.5V68.9M42.76 66.5V68.9M44.1 66.5V68.9M45.29 66.5V68.9M46.35 66.5V70.3M53.33 66.5V68.9M57.41 66.5V68.9M60.3 66.5V68.9M62.55 66.5V68.9M64.38 66.5V68.9M65.94 66.5V68.9M67.28 66.5V68.9M68.46 66.5V68.9M69.53 66.5V70.3M76.5 66.5V68.9M80.58 66.5V68.9M83.48 66.5V68.9M85.72 66.5V68.9M87.56 66.5V68.9M89.11 66.5V68.9M90.45 66.5V68.9M91.64 66.5V68.9M92.7 66.5V70.3" stroke="#000" stroke-width="1" fill="none"/><text transform="translate(-7.1 64.8) rotate(-90)" text-anchor="middle" style="font-family:&quot;Liberation Sans&quot;,sans-serif;stroke:#000;stroke-width:0.35px;font-size:7px" fill="#000">0</text><text transform="translate(-7.1 51.7) rotate(-90)" text-anchor="middle" style="font-family:&quot;Liberation Sans&quot;,sans-serif;stroke:#000;stroke-width:0.35px;font-size:7px" fill="#000">10</text><text transform="translate(-7.1 38.6) rotate(-90)" text-anchor="middle" style="font-family:&quot;Liberation Sans&quot;,sans-serif;stroke:#000;stroke-width:0.35px;font-size:7px" fill="#000">20</text><text transform="translate(-7.1 25.5) rotate(-90)" text-anchor="middle" style="font-family:&quot;Liberation Sans&quot;,sans-serif;stroke:#000;stroke-width:0.35px;font-size:7px" fill="#000">30</text><text transform="translate(-7.1 12.4) rotate(-90)" text-anchor="middle" style="font-family:&quot;Liberation Sans&quot;,sans-serif;stroke:#000;stroke-width:0.35px;font-size:7px" fill="#000">40</text><text transform="translate(-7.1 -0.7) rotate(-90)" text-anchor="middle" style="font-family:&quot;Liberation Sans&quot;,sans-serif;stroke:#000;stroke-width:0.35px;font-size:7px" fill="#000">50</text><text transform="translate(-15.9 34.25) rotate(-90)" text-anchor="middle" style="font-family:&quot;Liberation Sans&quot;,sans-serif;stroke:#000;stroke-width:0.35px;font-size:8px" fill="#000">Counts</text><text x="0.6" y="79.8" text-anchor="middle" style="font-family:&quot;Liberation Sans&quot;,sans-serif;stroke:#000;stroke-width:0.35px;font-size:7.4px;letter-spacing:0.35px" fill="#000">10<tspan dy="-3.6">0</tspan></text><text x="23.78" y="79.8" text-anchor="middle" style="font-family:&quot;Liberation Sans&quot;,sans-serif;stroke:#000;stroke-width:0.35px;font-size:7.4px;letter-spacing:0.35px" fill="#000">10<tspan dy="-3.6">1</tspan></text><text x="46.95" y="79.8" text-anchor="middle" style="font-family:&quot;Liberation Sans&quot;,sans-serif;stroke:#000;stroke-width:0.35px;font-size:7.4px;letter-spacing:0.35px" fill="#000">10<tspan dy="-3.6">2</tspan></text><text x="70.12" y="79.8" text-anchor="middle" style="font-family:&quot;Liberation Sans&quot;,sans-serif;stroke:#000;stroke-width:0.35px;font-size:7.4px;letter-spacing:0.35px" fill="#000">10<tspan dy="-3.6">3</tspan></text><text x="93.3" y="79.8" text-anchor="middle" style="font-family:&quot;Liberation Sans&quot;,sans-serif;stroke:#000;stroke-width:0.35px;font-size:7.4px;letter-spacing:0.35px" fill="#000">10<tspan dy="-3.6">4</tspan></text><text x="45.35" y="87.8" text-anchor="middle" style="font-family:&quot;Liberation Sans&quot;,sans-serif;stroke:#000;stroke-width:0.35px;font-size:7.5px" fill="#000">FL1-H</text></g>
<text x="478.9" y="65.4" style="font-family:&quot;Liberation Serif&quot;,serif;font-weight:bold;font-size:9px" fill="#111">NONE</text>
<g><path d="M56 223.93 L59 223 L62 218.5 L64.2 212.5 L65.7 205 L66.5 197.5 L66.8 190 L66.8 182 L67.2 178 L68.7 172 L69.8 166 L71 160.7 L72.2 158.5 L73.2 163 L74.3 169 L75.5 176.5 L76.7 184 L77.7 188.5 L79.2 194.5 L80.7 200.5 L81.9 206.5 L83 212.5 L84.5 217 L86 220 L88.2 222.2 L91 223.74" fill="none" stroke="#000" stroke-width="1.5" stroke-linejoin="round"/><path d="M43 224 L45.5 223 L47.7 218.5 L50 214 L52.2 208 L53.7 202 L55.2 194.5 L56.7 187 L57.9 179.5 L59 173.5 L60.5 169 L61.5 166 L62.7 170.5 L63.8 175 L65 181 L66.2 188.5 L67.2 194.5 L68.7 200.5 L70.2 206.5 L71.7 211 L73.2 215.5 L74.7 219.2 L77 222.2 L80 223.8Z" fill="#505050" stroke="#111" stroke-width="0.9" stroke-linejoin="round"/><path d="M56 223.93 L59 223 L62 218.5 L64.2 212.5 L65.7 205 L66.5 197.5 L66.8 190 L66.8 182 L67.2 178 L68.7 172 L69.8 166 L71 160.7 L72.2 158.5 L73.2 163 L74.3 169 L75.5 176.5 L76.7 184 L77.7 188.5 L79.2 194.5 L80.7 200.5 L81.9 206.5 L83 212.5 L84.5 217 L86 220 L88.2 222.2 L91 223.74" fill="none" stroke="#bdbdbd" stroke-width="0.8" clip-path="url(#c10)"/><path d="M24.7 222.91 L25.6 222.48 L26.5 222.25 L27.4 223.25 L28.3 222.53 L29.2 222.62 L30.1 222.67 L31 223.5 L31.9 223.62 L32.8 223.08 L33.7 222.53 L34.6 223.26 L35.5 222.89 L36.4 223.16 L37.3 222.36 L38.2 222.21 L39.1 223.02 L40 222.12 L40.9 223.52 L41.8 222.39 L42.7 222.29 L43.6 223.37 L44.5 222.53 L45.4 222.75 L46.3 222.15 L47.2 223.26 L48.1 222.76 L49 222.24 L49.9 222.6 L50.8 223.09 L51.7 223.43 L52.6 222.14 L53.5 222.83 L54.4 222.04 L55.3 223.32 L56.2 222.31 L57.1 222.3 L58 222.14 L58.9 223.49 L59.8 222.95 L60.7 223.43 L61.6 222.37 L62.5 222.96 L63.4 222.05 L64.3 222.92 L65.2 222.32 L66.1 222.17 L67 223.11 L67.9 222.63 L68.8 222.02 L69.7 222.66 L70.6 222.91 L71.5 223.04 L72.4 222.26 L73.3 223.15 L74.2 222.52 L75.1 222.59 L76 222.59 L76.9 223.22 L77.8 222.42 L78.7 222.03 L79.6 222.92 L80.5 222.9 L81.4 222.03 L82.3 222.52 L83.2 222.97 L84.1 223.36 L85 222.24 L85.9 222.85 L86.8 222.66 L87.7 222.95 L88.6 222.4 L89.5 222.25 L90.4 222.88 L91.3 223.23 L92.2 221.85 L93.1 221.96 L94 223.29 L94.9 222.47 L95.8 222.29 L96.7 222.71 L97.6 222.21 L98.5 221.86 L99.4 222.41 L100.3 222.7 L101.2 222.99 L102.1 222.9 L103 223.05 L103.9 223.11 L104.8 222.95 L105.7 222 L106.6 222.45 L107.5 222.04 L108.4 221.87 L109.3 222.03 L110.2 223.16 L111.1 221.84 L112 223.09 L112.9 222.07 L113.8 221.96 L114.7 222.23 L115.6 222.6" fill="none" stroke="#222" stroke-width="0.7"/></g>
<g transform="matrix(1.00647 -0.00539 0.00752 0.98947 23.40000 158.30000)"><rect x="0" y="0" width="92.7" height="66.5" fill="none" stroke="#111" stroke-width="1.1"/><path d="M-4 66H0M-2 63.38H0M-2 60.76H0M-2 58.14H0M-2 55.52H0M-4 52.9H0M-2 50.28H0M-2 47.66H0M-2 45.04H0M-2 42.42H0M-4 39.8H0M-2 37.18H0M-2 34.56H0M-2 31.94H0M-2 29.32H0M-4 26.7H0M-2 24.08H0M-2 21.46H0M-2 18.84H0M-2 16.22H0M-4 13.6H0M-2 10.98H0M-2 8.36H0M-2 5.74H0M-2 3.12H0M-4 0.5H0M0 66.5V70.3M6.98 66.5V68.9M11.06 66.5V68.9M13.95 66.5V68.9M16.2 66.5V68.9M18.03 66.5V68.9M19.59 66.5V68.9M20.93 66.5V68.9M22.11 66.5V68.9M23.18 66.5V70.3M30.15 66.5V68.9M34.23 66.5V68.9M37.13 66.5V68.9M39.37 66.5V68.9M41.21 66.5V68.9M42.76 66.5V68.9M44.1 66.5V68.9M45.29 66.5V68.9M46.35 66.5V70.3M53.33 66.5V68.9M57.41 66.5V68.9M60.3 66.5V68.9M62.55 66.5V68.9M64.38 66.5V68.9M65.94 66.5V68.9M67.28 66.5V68.9M68.46 66.5V68.9M69.53 66.5V70.3M76.5 66.5V68.9M80.58 66.5V68.9M83.48 66.5V68.9M85.72 66.5V68.9M87.56 66.5V68.9M89.11 66.5V68.9M90.45 66.5V68.9M91.64 66.5V68.9M92.7 66.5V70.3" stroke="#000" stroke-width="1" fill="none"/><text transform="translate(-7.1 64.8) rotate(-90)" text-anchor="middle" style="font-family:&quot;Liberation Sans&quot;,sans-serif;stroke:#000;stroke-width:0.35px;font-size:7px" fill="#000">0</text><text transform="translate(-7.1 51.7) rotate(-90)" text-anchor="middle" style="font-family:&quot;Liberation Sans&quot;,sans-serif;stroke:#000;stroke-width:0.35px;font-size:7px" fill="#000">10</text><text transform="translate(-7.1 38.6) rotate(-90)" text-anchor="middle" style="font-family:&quot;Liberation Sans&quot;,sans-serif;stroke:#000;stroke-width:0.35px;font-size:7px" fill="#000">20</text><text transform="translate(-7.1 25.5) rotate(-90)" text-anchor="middle" style="font-family:&quot;Liberation Sans&quot;,sans-serif;stroke:#000;stroke-width:0.35px;font-size:7px" fill="#000">30</text><text transform="translate(-7.1 12.4) rotate(-90)" text-anchor="middle" style="font-family:&quot;Liberation Sans&quot;,sans-serif;stroke:#000;stroke-width:0.35px;font-size:7px" fill="#000">40</text><text transform="translate(-7.1 -0.7) rotate(-90)" text-anchor="middle" style="font-family:&quot;Liberation Sans&quot;,sans-serif;stroke:#000;stroke-width:0.35px;font-size:7px" fill="#000">50</text><text transform="translate(-15.9 34.25) rotate(-90)" text-anchor="middle" style="font-family:&quot;Liberation Sans&quot;,sans-serif;stroke:#000;stroke-width:0.35px;font-size:8px" fill="#000">Counts</text><text x="0.6" y="79.8" text-anchor="middle" style="font-family:&quot;Liberation Sans&quot;,sans-serif;stroke:#000;stroke-width:0.35px;font-size:7.4px;letter-spacing:0.35px" fill="#000">10<tspan dy="-3.6">0</tspan></text><text x="23.78" y="79.8" text-anchor="middle" style="font-family:&quot;Liberation Sans&quot;,sans-serif;stroke:#000;stroke-width:0.35px;font-size:7.4px;letter-spacing:0.35px" fill="#000">10<tspan dy="-3.6">1</tspan></text><text x="46.95" y="79.8" text-anchor="middle" style="font-family:&quot;Liberation Sans&quot;,sans-serif;stroke:#000;stroke-width:0.35px;font-size:7.4px;letter-spacing:0.35px" fill="#000">10<tspan dy="-3.6">2</tspan></text><text x="70.12" y="79.8" text-anchor="middle" style="font-family:&quot;Liberation Sans&quot;,sans-serif;stroke:#000;stroke-width:0.35px;font-size:7.4px;letter-spacing:0.35px" fill="#000">10<tspan dy="-3.6">3</tspan></text><text x="93.3" y="79.8" text-anchor="middle" style="font-family:&quot;Liberation Sans&quot;,sans-serif;stroke:#000;stroke-width:0.35px;font-size:7.4px;letter-spacing:0.35px" fill="#000">10<tspan dy="-3.6">4</tspan></text><text x="45.35" y="87.8" text-anchor="middle" style="font-family:&quot;Liberation Sans&quot;,sans-serif;stroke:#000;stroke-width:0.35px;font-size:7.5px" fill="#000">FL1-H</text></g>
<text x="85.4" y="171.3" style="font-family:&quot;Liberation Serif&quot;,serif;font-weight:bold;font-size:9px" fill="#111">bFGF</text>
<g><path d="M187 225.89 L190.2 224 L194.8 219.4 L197.8 213.3 L199.4 205.7 L200.1 198.1 L200.9 190.5 L201.6 182.9 L202.4 178.3 L203.2 173.7 L204.7 169.2 L206.2 164.6 L207.3 160.8 L208.5 166.1 L209.7 172.2 L210.8 178.3 L211.8 184.4 L213.1 192 L214.3 198.1 L215.3 204.2 L216.4 210.3 L217.6 214.8 L219.1 218.6 L220.7 221.7 L223.7 224 L227 225.5" fill="none" stroke="#000" stroke-width="1.5" stroke-linejoin="round"/><path d="M179 225.97 L181.1 224 L184.1 220.9 L187.2 217.9 L189.5 213.3 L191 207.2 L192.5 199.6 L194 192 L195.1 184.4 L196.3 179.8 L197.8 179.1 L199.4 178.3 L200.9 179.8 L202.4 177.5 L203.6 176.8 L204.7 179.8 L205.4 185.9 L206.7 193.5 L207.7 201.1 L208.8 207.2 L210 213.3 L211.5 217.9 L213.8 221.7 L216.9 224 L220 225.57Z" fill="#505050" stroke="#111" stroke-width="0.9" stroke-linejoin="round"/><path d="M187 225.89 L190.2 224 L194.8 219.4 L197.8 213.3 L199.4 205.7 L200.1 198.1 L200.9 190.5 L201.6 182.9 L202.4 178.3 L203.2 173.7 L204.7 169.2 L206.2 164.6 L207.3 160.8 L208.5 166.1 L209.7 172.2 L210.8 178.3 L211.8 184.4 L213.1 192 L214.3 198.1 L215.3 204.2 L216.4 210.3 L217.6 214.8 L219.1 218.6 L220.7 221.7 L223.7 224 L227 225.5" fill="none" stroke="#bdbdbd" stroke-width="0.8" clip-path="url(#c11)"/><path d="M156.2 225.52 L157.1 224.79 L158 225.27 L158.9 225.47 L159.8 225.02 L160.7 225.01 L161.6 225.02 L162.5 225.04 L163.4 225.33 L164.3 225.33 L165.2 224.67 L166.1 225.21 L167 224.67 L167.9 224.5 L168.8 224.37 L169.7 224.24 L170.6 225.3 L171.5 225.29 L172.4 224.53 L173.3 224.76 L174.2 225.31 L175.1 224.59 L176 224.29 L176.9 224.34 L177.8 225.26 L178.7 225.12 L179.6 225.55 L180.5 224.09 L181.4 225.22 L182.3 224.45 L183.2 224.72 L184.1 224.63 L185 224.72 L185.9 224.26 L186.8 224.59 L187.7 225.03 L188.6 225.3 L189.5 224.75 L190.4 224.07 L191.3 225.23 L192.2 224.41 L193.1 224.49 L194 225.18 L194.9 225.1 L195.8 224.38 L196.7 224.74 L197.6 224.78 L198.5 224.66 L199.4 225.22 L200.3 224.3 L201.2 224.47 L202.1 224.54 L203 224.83 L203.9 224.11 L204.8 224.08 L205.7 224.49 L206.6 225.17 L207.5 225.07 L208.4 225.05 L209.3 225.16 L210.2 224.29 L211.1 224.44 L212 224.94 L212.9 223.87 L213.8 224.29 L214.7 224.03 L215.6 223.99 L216.5 224.18 L217.4 224.4 L218.3 223.71 L219.2 224.98 L220.1 224.13 L221 223.83 L221.9 224.43 L222.8 223.92 L223.7 224.86 L224.6 224.5 L225.5 224.71 L226.4 224.51 L227.3 224.05 L228.2 224.87 L229.1 224.57 L230 223.8 L230.9 224.61 L231.8 224.87 L232.7 223.55 L233.6 224.22 L234.5 225 L235.4 224.16 L236.3 224.79 L237.2 224.76 L238.1 223.88 L239 224.01 L239.9 224.34 L240.8 224.19 L241.7 224.12 L242.6 224.26 L243.5 224.79 L244.4 223.78 L245.3 223.77 L246.2 224.28" fill="none" stroke="#222" stroke-width="0.7"/></g>
<g transform="matrix(0.99461 -0.00971 0.00752 1.00150 154.90000 159.60000)"><rect x="0" y="0" width="92.7" height="66.5" fill="none" stroke="#111" stroke-width="1.1"/><path d="M-4 66H0M-2 63.38H0M-2 60.76H0M-2 58.14H0M-2 55.52H0M-4 52.9H0M-2 50.28H0M-2 47.66H0M-2 45.04H0M-2 42.42H0M-4 39.8H0M-2 37.18H0M-2 34.56H0M-2 31.94H0M-2 29.32H0M-4 26.7H0M-2 24.08H0M-2 21.46H0M-2 18.84H0M-2 16.22H0M-4 13.6H0M-2 10.98H0M-2 8.36H0M-2 5.74H0M-2 3.12H0M-4 0.5H0M0 66.5V70.3M6.98 66.5V68.9M11.06 66.5V68.9M13.95 66.5V68.9M16.2 66.5V68.9M18.03 66.5V68.9M19.59 66.5V68.9M20.93 66.5V68.9M22.11 66.5V68.9M23.18 66.5V70.3M30.15 66.5V68.9M34.23 66.5V68.9M37.13 66.5V68.9M39.37 66.5V68.9M41.21 66.5V68.9M42.76 66.5V68.9M44.1 66.5V68.9M45.29 66.5V68.9M46.35 66.5V70.3M53.33 66.5V68.9M57.41 66.5V68.9M60.3 66.5V68.9M62.55 66.5V68.9M64.38 66.5V68.9M65.94 66.5V68.9M67.28 66.5V68.9M68.46 66.5V68.9M69.53 66.5V70.3M76.5 66.5V68.9M80.58 66.5V68.9M83.48 66.5V68.9M85.72 66.5V68.9M87.56 66.5V68.9M89.11 66.5V68.9M90.45 66.5V68.9M91.64 66.5V68.9M92.7 66.5V70.3" stroke="#000" stroke-width="1" fill="none"/><text transform="translate(-7.1 64.8) rotate(-90)" text-anchor="middle" style="font-family:&quot;Liberation Sans&quot;,sans-serif;stroke:#000;stroke-width:0.35px;font-size:7px" fill="#000">0</text><text transform="translate(-7.1 51.7) rotate(-90)" text-anchor="middle" style="font-family:&quot;Liberation Sans&quot;,sans-serif;stroke:#000;stroke-width:0.35px;font-size:7px" fill="#000">10</text><text transform="translate(-7.1 38.6) rotate(-90)" text-anchor="middle" style="font-family:&quot;Liberation Sans&quot;,sans-serif;stroke:#000;stroke-width:0.35px;font-size:7px" fill="#000">20</text><text transform="translate(-7.1 25.5) rotate(-90)" text-anchor="middle" style="font-family:&quot;Liberation Sans&quot;,sans-serif;stroke:#000;stroke-width:0.35px;font-size:7px" fill="#000">30</text><text transform="translate(-7.1 12.4) rotate(-90)" text-anchor="middle" style="font-family:&quot;Liberation Sans&quot;,sans-serif;stroke:#000;stroke-width:0.35px;font-size:7px" fill="#000">40</text><text transform="translate(-7.1 -0.7) rotate(-90)" text-anchor="middle" style="font-family:&quot;Liberation Sans&quot;,sans-serif;stroke:#000;stroke-width:0.35px;font-size:7px" fill="#000">50</text><text transform="translate(-15.9 34.25) rotate(-90)" text-anchor="middle" style="font-family:&quot;Liberation Sans&quot;,sans-serif;stroke:#000;stroke-width:0.35px;font-size:8px" fill="#000">Counts</text><text x="0.6" y="79.8" text-anchor="middle" style="font-family:&quot;Liberation Sans&quot;,sans-serif;stroke:#000;stroke-width:0.35px;font-size:7.4px;letter-spacing:0.35px" fill="#000">10<tspan dy="-3.6">0</tspan></text><text x="23.78" y="79.8" text-anchor="middle" style="font-family:&quot;Liberation Sans&quot;,sans-serif;stroke:#000;stroke-width:0.35px;font-size:7.4px;letter-spacing:0.35px" fill="#000">10<tspan dy="-3.6">1</tspan></text><text x="46.95" y="79.8" text-anchor="middle" style="font-family:&quot;Liberation Sans&quot;,sans-serif;stroke:#000;stroke-width:0.35px;font-size:7.4px;letter-spacing:0.35px" fill="#000">10<tspan dy="-3.6">2</tspan></text><text x="70.12" y="79.8" text-anchor="middle" style="font-family:&quot;Liberation Sans&quot;,sans-serif;stroke:#000;stroke-width:0.35px;font-size:7.4px;letter-spacing:0.35px" fill="#000">10<tspan dy="-3.6">3</tspan></text><text x="93.3" y="79.8" text-anchor="middle" style="font-family:&quot;Liberation Sans&quot;,sans-serif;stroke:#000;stroke-width:0.35px;font-size:7.4px;letter-spacing:0.35px" fill="#000">10<tspan dy="-3.6">4</tspan></text><text x="45.35" y="87.8" text-anchor="middle" style="font-family:&quot;Liberation Sans&quot;,sans-serif;stroke:#000;stroke-width:0.35px;font-size:7.5px" fill="#000">FL1-H</text></g>
<text x="214.8" y="171.3" style="font-family:&quot;Liberation Serif&quot;,serif;font-weight:bold;font-size:9px" fill="#111">bFGF</text>
<g><path d="M306 225.27 L309.5 223.1 L312.4 218.8 L314.5 213.1 L316 207.3 L317.4 203 L318.8 198.7 L319.6 194.4 L320.3 190.8 L321.7 185.8 L322.7 180.1 L323.9 175.8 L324.7 171.5 L325.3 165.7 L326.2 171.5 L327 177.2 L328.2 183 L329.3 188.7 L330.3 194.4 L331.3 200.2 L332.5 205.9 L333.6 211.7 L335.3 216.7 L337.5 220.3 L340.4 221.7 L346.5 220.9 L354.2 222.3 L365.8 223.3 L378 225.58" fill="none" stroke="#000" stroke-width="1.5" stroke-linejoin="round"/><path d="M290 225.21 L292.3 223.1 L295.9 220.3 L298.8 216 L300.9 211.7 L303.1 205.9 L304.9 200.2 L306.4 193 L307.1 186.5 L308.1 188.7 L309.5 187.3 L311 184.4 L312.1 181.5 L313.1 180.8 L314.1 185.1 L315.3 187.3 L316.4 184.4 L317.4 187.3 L318.4 190.1 L319.3 194.4 L319.9 200.2 L321 204.5 L322.4 208.8 L323.9 213.1 L325.6 216.7 L327.5 219.5 L330.3 221.7 L333.9 223.1 L340 224 L350 224.5 L356 225.49Z" fill="#505050" stroke="#111" stroke-width="0.9" stroke-linejoin="round"/><path d="M306 225.27 L309.5 223.1 L312.4 218.8 L314.5 213.1 L316 207.3 L317.4 203 L318.8 198.7 L319.6 194.4 L320.3 190.8 L321.7 185.8 L322.7 180.1 L323.9 175.8 L324.7 171.5 L325.3 165.7 L326.2 171.5 L327 177.2 L328.2 183 L329.3 188.7 L330.3 194.4 L331.3 200.2 L332.5 205.9 L333.6 211.7 L335.3 216.7 L337.5 220.3 L340.4 221.7 L346.5 220.9 L354.2 222.3 L365.8 223.3 L378 225.58" fill="none" stroke="#bdbdbd" stroke-width="0.8" clip-path="url(#c12)"/><path d="M289.6 223.79 L290.5 223.63 L291.4 224.03 L292.3 224.05 L293.2 224.23 L294.1 223.33 L295 224.39 L295.9 224.61 L296.8 224.44 L297.7 224.45 L298.6 224.35 L299.5 224.44 L300.4 224.69 L301.3 224.37 L302.2 224.39 L303.1 224.01 L304 224.56 L304.9 224.76 L305.8 224.57 L306.7 224.06 L307.6 224.3 L308.5 223.78 L309.4 223.68 L310.3 224.27 L311.2 224.75 L312.1 223.81 L313 223.77 L313.9 224.31 L314.8 223.92 L315.7 224.47 L316.6 223.55 L317.5 223.67 L318.4 223.74 L319.3 223.5 L320.2 224.59 L321.1 224.12 L322 223.85 L322.9 223.74 L323.8 224.37 L324.7 224.75 L325.6 224.02 L326.5 224.81 L327.4 223.91 L328.3 224.96 L329.2 224.29 L330.1 224.26 L331 224.8 L331.9 224.27 L332.8 224.24 L333.7 224.44 L334.6 223.65 L335.5 223.7 L336.4 223.67 L337.3 224.64 L338.2 224.97 L339.1 224.45 L340 224.85 L340.9 223.97 L341.8 224.63 L342.7 224.84 L343.6 224.61 L344.5 224.44 L345.4 223.94 L346.3 224.36 L347.2 224.6 L348.1 224.04 L349 224.99 L349.9 224.75 L350.8 224.04 L351.7 223.94 L352.6 224.92 L353.5 224.98 L354.4 224.32 L355.3 224.1 L356.2 225.07 L357.1 224.44 L358 224.69 L358.9 224.97 L359.8 224.85 L360.7 224.68 L361.6 224.41 L362.5 224.95 L363.4 224.19 L364.3 223.81 L365.2 224.1 L366.1 225.03 L367 224.16 L367.9 224.19 L368.8 225.13 L369.7 224.57 L370.6 224.17 L371.5 223.73 L372.4 223.77 L373.3 224.31 L374.2 224.29 L375.1 223.73 L376 224.86 L376.9 224.42 L377.8 225.09 L378.7 224.03 L379.6 224.21 L380.5 224.88" fill="none" stroke="#222" stroke-width="0.7"/></g>
<g transform="matrix(1.00000 0.00431 -0.00301 0.99699 289.00000 158.90000)"><rect x="0" y="0" width="92.7" height="66.5" fill="none" stroke="#111" stroke-width="1.1"/><path d="M-4 66H0M-2 63.38H0M-2 60.76H0M-2 58.14H0M-2 55.52H0M-4 52.9H0M-2 50.28H0M-2 47.66H0M-2 45.04H0M-2 42.42H0M-4 39.8H0M-2 37.18H0M-2 34.56H0M-2 31.94H0M-2 29.32H0M-4 26.7H0M-2 24.08H0M-2 21.46H0M-2 18.84H0M-2 16.22H0M-4 13.6H0M-2 10.98H0M-2 8.36H0M-2 5.74H0M-2 3.12H0M-4 0.5H0M0 66.5V70.3M6.98 66.5V68.9M11.06 66.5V68.9M13.95 66.5V68.9M16.2 66.5V68.9M18.03 66.5V68.9M19.59 66.5V68.9M20.93 66.5V68.9M22.11 66.5V68.9M23.18 66.5V70.3M30.15 66.5V68.9M34.23 66.5V68.9M37.13 66.5V68.9M39.37 66.5V68.9M41.21 66.5V68.9M42.76 66.5V68.9M44.1 66.5V68.9M45.29 66.5V68.9M46.35 66.5V70.3M53.33 66.5V68.9M57.41 66.5V68.9M60.3 66.5V68.9M62.55 66.5V68.9M64.38 66.5V68.9M65.94 66.5V68.9M67.28 66.5V68.9M68.46 66.5V68.9M69.53 66.5V70.3M76.5 66.5V68.9M80.58 66.5V68.9M83.48 66.5V68.9M85.72 66.5V68.9M87.56 66.5V68.9M89.11 66.5V68.9M90.45 66.5V68.9M91.64 66.5V68.9M92.7 66.5V70.3" stroke="#000" stroke-width="1" fill="none"/><text transform="translate(-7.1 64.8) rotate(-90)" text-anchor="middle" style="font-family:&quot;Liberation Sans&quot;,sans-serif;stroke:#000;stroke-width:0.35px;font-size:7px" fill="#000">0</text><text transform="translate(-7.1 51.7) rotate(-90)" text-anchor="middle" style="font-family:&quot;Liberation Sans&quot;,sans-serif;stroke:#000;stroke-width:0.35px;font-size:7px" fill="#000">10</text><text transform="translate(-7.1 38.6) rotate(-90)" text-anchor="middle" style="font-family:&quot;Liberation Sans&quot;,sans-serif;stroke:#000;stroke-width:0.35px;font-size:7px" fill="#000">20</text><text transform="translate(-7.1 25.5) rotate(-90)" text-anchor="middle" style="font-family:&quot;Liberation Sans&quot;,sans-serif;stroke:#000;stroke-width:0.35px;font-size:7px" fill="#000">30</text><text transform="translate(-7.1 12.4) rotate(-90)" text-anchor="middle" style="font-family:&quot;Liberation Sans&quot;,sans-serif;stroke:#000;stroke-width:0.35px;font-size:7px" fill="#000">40</text><text transform="translate(-7.1 -0.7) rotate(-90)" text-anchor="middle" style="font-family:&quot;Liberation Sans&quot;,sans-serif;stroke:#000;stroke-width:0.35px;font-size:7px" fill="#000">50</text><text transform="translate(-15.9 34.25) rotate(-90)" text-anchor="middle" style="font-family:&quot;Liberation Sans&quot;,sans-serif;stroke:#000;stroke-width:0.35px;font-size:8px" fill="#000">Counts</text><text x="0.6" y="79.8" text-anchor="middle" style="font-family:&quot;Liberation Sans&quot;,sans-serif;stroke:#000;stroke-width:0.35px;font-size:7.4px;letter-spacing:0.35px" fill="#000">10<tspan dy="-3.6">0</tspan></text><text x="23.78" y="79.8" text-anchor="middle" style="font-family:&quot;Liberation Sans&quot;,sans-serif;stroke:#000;stroke-width:0.35px;font-size:7.4px;letter-spacing:0.35px" fill="#000">10<tspan dy="-3.6">1</tspan></text><text x="46.95" y="79.8" text-anchor="middle" style="font-family:&quot;Liberation Sans&quot;,sans-serif;stroke:#000;stroke-width:0.35px;font-size:7.4px;letter-spacing:0.35px" fill="#000">10<tspan dy="-3.6">2</tspan></text><text x="70.12" y="79.8" text-anchor="middle" style="font-family:&quot;Liberation Sans&quot;,sans-serif;stroke:#000;stroke-width:0.35px;font-size:7.4px;letter-spacing:0.35px" fill="#000">10<tspan dy="-3.6">3</tspan></text><text x="93.3" y="79.8" text-anchor="middle" style="font-family:&quot;Liberation Sans&quot;,sans-serif;stroke:#000;stroke-width:0.35px;font-size:7.4px;letter-spacing:0.35px" fill="#000">10<tspan dy="-3.6">4</tspan></text><text x="45.35" y="87.8" text-anchor="middle" style="font-family:&quot;Liberation Sans&quot;,sans-serif;stroke:#000;stroke-width:0.35px;font-size:7.5px" fill="#000">FL1-H</text></g>
<text x="350" y="170.4" style="font-family:&quot;Liberation Serif&quot;,serif;font-weight:bold;font-size:9px" fill="#111">bFGF</text>
<g><path d="M440 224.06 L442.9 222.6 L449.8 219.8 L454 217.7 L456.8 214.2 L458.2 208.7 L458.9 204.5 L459.6 198.9 L460.2 193.4 L461.2 187.8 L462.3 185 L463.4 182.3 L464.4 176.7 L465.4 169.7 L466.2 178.1 L467.2 183.6 L468.6 187.8 L470 193.4 L471.4 198.9 L472.8 204.5 L474.2 210.1 L475.5 214.2 L476.9 217 L478.3 219.8 L480.4 221.2 L486 221.9 L492 224.23" fill="none" stroke="#000" stroke-width="1.5" stroke-linejoin="round"/><path d="M425 224.01 L427.6 222.6 L430.3 219.8 L433.1 215.6 L435.2 211.5 L437.3 205.9 L438.7 201.7 L440.1 196.2 L441.5 192 L442.6 187.8 L443.6 179.5 L444.5 186.4 L445.9 187.1 L447 185 L448.4 182.3 L449.1 187.8 L450.5 192 L451.9 196.2 L453.3 200.3 L454.7 203.1 L455.4 207.3 L456.1 212.9 L457.5 217 L459.6 219.8 L462.3 221.9 L466 224.15Z" fill="#505050" stroke="#111" stroke-width="0.9" stroke-linejoin="round"/><path d="M440 224.06 L442.9 222.6 L449.8 219.8 L454 217.7 L456.8 214.2 L458.2 208.7 L458.9 204.5 L459.6 198.9 L460.2 193.4 L461.2 187.8 L462.3 185 L463.4 182.3 L464.4 176.7 L465.4 169.7 L466.2 178.1 L467.2 183.6 L468.6 187.8 L470 193.4 L471.4 198.9 L472.8 204.5 L474.2 210.1 L475.5 214.2 L476.9 217 L478.3 219.8 L480.4 221.2 L486 221.9 L492 224.23" fill="none" stroke="#bdbdbd" stroke-width="0.8" clip-path="url(#c13)"/><path d="M421.5 222.24 L422.4 222.58 L423.3 222.46 L424.2 222.25 L425.1 223.22 L426 222.66 L426.9 222.26 L427.8 222.31 L428.7 222.77 L429.6 223.37 L430.5 223.01 L431.4 222.14 L432.3 223.48 L433.2 223.16 L434.1 222.22 L435 222.97 L435.9 223.34 L436.8 223.18 L437.7 222.29 L438.6 223.15 L439.5 223.02 L440.4 222.72 L441.3 222.46 L442.2 222.93 L443.1 223.55 L444 222.82 L444.9 223.63 L445.8 223.54 L446.7 223.4 L447.6 222.65 L448.5 223.27 L449.4 222.66 L450.3 223.45 L451.2 223.52 L452.1 223.67 L453 222.65 L453.9 222.42 L454.8 223.38 L455.7 223.36 L456.6 223.7 L457.5 222.75 L458.4 223.27 L459.3 223.52 L460.2 222.76 L461.1 222.83 L462 223.06 L462.9 223.51 L463.8 222.78 L464.7 222.91 L465.6 223.1 L466.5 223.5 L467.4 222.36 L468.3 222.46 L469.2 222.72 L470.1 222.27 L471 222.89 L471.9 223.25 L472.8 223.6 L473.7 222.86 L474.6 223 L475.5 223.12 L476.4 222.29 L477.3 222.53 L478.2 223.62 L479.1 222.46 L480 223.79 L480.9 222.82 L481.8 223.33 L482.7 222.71 L483.6 222.38 L484.5 223.01 L485.4 222.67 L486.3 223.73 L487.2 222.82 L488.1 223.64 L489 223.14 L489.9 223.33 L490.8 223.72 L491.7 222.71 L492.6 223.69 L493.5 223.45 L494.4 223.71 L495.3 222.85 L496.2 223.39 L497.1 223.78 L498 223.81 L498.9 223.53 L499.8 223.1 L500.7 223.84 L501.6 223.83 L502.5 222.87 L503.4 223.08 L504.3 223.67 L505.2 223.41 L506.1 223.69 L507 223.47 L507.9 223.3 L508.8 223.56 L509.7 223.59 L510.6 223.55 L511.5 223.44" fill="none" stroke="#222" stroke-width="0.7"/></g>
<g transform="matrix(0.99353 0.00324 -0.00301 1.00752 420.90000 157.00000)"><rect x="0" y="0" width="92.7" height="66.5" fill="none" stroke="#111" stroke-width="1.1"/><path d="M-4 66H0M-2 63.38H0M-2 60.76H0M-2 58.14H0M-2 55.52H0M-4 52.9H0M-2 50.28H0M-2 47.66H0M-2 45.04H0M-2 42.42H0M-4 39.8H0M-2 37.18H0M-2 34.56H0M-2 31.94H0M-2 29.32H0M-4 26.7H0M-2 24.08H0M-2 21.46H0M-2 18.84H0M-2 16.22H0M-4 13.6H0M-2 10.98H0M-2 8.36H0M-2 5.74H0M-2 3.12H0M-4 0.5H0M0 66.5V70.3M6.98 66.5V68.9M11.06 66.5V68.9M13.95 66.5V68.9M16.2 66.5V68.9M18.03 66.5V68.9M19.59 66.5V68.9M20.93 66.5V68.9M22.11 66.5V68.9M23.18 66.5V70.3M30.15 66.5V68.9M34.23 66.5V68.9M37.13 66.5V68.9M39.37 66.5V68.9M41.21 66.5V68.9M42.76 66.5V68.9M44.1 66.5V68.9M45.29 66.5V68.9M46.35 66.5V70.3M53.33 66.5V68.9M57.41 66.5V68.9M60.3 66.5V68.9M62.55 66.5V68.9M64.38 66.5V68.9M65.94 66.5V68.9M67.28 66.5V68.9M68.46 66.5V68.9M69.53 66.5V70.3M76.5 66.5V68.9M80.58 66.5V68.9M83.48 66.5V68.9M85.72 66.5V68.9M87.56 66.5V68.9M89.11 66.5V68.9M90.45 66.5V68.9M91.64 66.5V68.9M92.7 66.5V70.3" stroke="#000" stroke-width="1" fill="none"/><text transform="translate(-7.1 64.8) rotate(-90)" text-anchor="middle" style="font-family:&quot;Liberation Sans&quot;,sans-serif;stroke:#000;stroke-width:0.35px;font-size:7px" fill="#000">0</text><text transform="translate(-7.1 51.7) rotate(-90)" text-anchor="middle" style="font-family:&quot;Liberation Sans&quot;,sans-serif;stroke:#000;stroke-width:0.35px;font-size:7px" fill="#000">10</text><text transform="translate(-7.1 38.6) rotate(-90)" text-anchor="middle" style="font-family:&quot;Liberation Sans&quot;,sans-serif;stroke:#000;stroke-width:0.35px;font-size:7px" fill="#000">20</text><text transform="translate(-7.1 25.5) rotate(-90)" text-anchor="middle" style="font-family:&quot;Liberation Sans&quot;,sans-serif;stroke:#000;stroke-width:0.35px;font-size:7px" fill="#000">30</text><text transform="translate(-7.1 12.4) rotate(-90)" text-anchor="middle" style="font-family:&quot;Liberation Sans&quot;,sans-serif;stroke:#000;stroke-width:0.35px;font-size:7px" fill="#000">40</text><text transform="translate(-7.1 -0.7) rotate(-90)" text-anchor="middle" style="font-family:&quot;Liberation Sans&quot;,sans-serif;stroke:#000;stroke-width:0.35px;font-size:7px" fill="#000">50</text><text transform="translate(-15.9 34.25) rotate(-90)" text-anchor="middle" style="font-family:&quot;Liberation Sans&quot;,sans-serif;stroke:#000;stroke-width:0.35px;font-size:8px" fill="#000">Counts</text><text x="0.6" y="79.8" text-anchor="middle" style="font-family:&quot;Liberation Sans&quot;,sans-serif;stroke:#000;stroke-width:0.35px;font-size:7.4px;letter-spacing:0.35px" fill="#000">10<tspan dy="-3.6">0</tspan></text><text x="23.78" y="79.8" text-anchor="middle" style="font-family:&quot;Liberation Sans&quot;,sans-serif;stroke:#000;stroke-width:0.35px;font-size:7.4px;letter-spacing:0.35px" fill="#000">10<tspan dy="-3.6">1</tspan></text><text x="46.95" y="79.8" text-anchor="middle" style="font-family:&quot;Liberation Sans&quot;,sans-serif;stroke:#000;stroke-width:0.35px;font-size:7.4px;letter-spacing:0.35px" fill="#000">10<tspan dy="-3.6">2</tspan></text><text x="70.12" y="79.8" text-anchor="middle" style="font-family:&quot;Liberation Sans&quot;,sans-serif;stroke:#000;stroke-width:0.35px;font-size:7.4px;letter-spacing:0.35px" fill="#000">10<tspan dy="-3.6">3</tspan></text><text x="93.3" y="79.8" text-anchor="middle" style="font-family:&quot;Liberation Sans&quot;,sans-serif;stroke:#000;stroke-width:0.35px;font-size:7.4px;letter-spacing:0.35px" fill="#000">10<tspan dy="-3.6">4</tspan></text><text x="45.35" y="87.8" text-anchor="middle" style="font-family:&quot;Liberation Sans&quot;,sans-serif;stroke:#000;stroke-width:0.35px;font-size:7.5px" fill="#000">FL1-H</text></g>
<text x="486.6" y="171.3" style="font-family:&quot;Liberation Serif&quot;,serif;font-weight:bold;font-size:9px" fill="#111">bFGF</text>
<g><path d="M55 330.2 L57.5 329 L59 323 L60.2 315.5 L61.2 308 L62.3 300.5 L63.2 293 L63.8 285.5 L64.7 278 L65 272 L65.7 267.5 L66.8 272 L68 271.2 L69.2 275 L70.2 279.5 L71.3 285.5 L72.5 291.5 L73.7 297.5 L74.7 303.5 L75.8 309.5 L77 314 L78.5 318.5 L80 323 L81.8 326 L83.7 328.2 L87 330.09" fill="none" stroke="#000" stroke-width="1.5" stroke-linejoin="round"/><path d="M42 330.24 L44 329 L47 326 L49.2 321.5 L51.2 315.5 L53 308 L54.5 300.5 L55.7 296 L56.7 290 L57.8 284 L58.7 278 L59.7 272 L60.5 268.2 L61.7 269 L62.7 273.5 L63.2 279.5 L63.8 285.5 L64.7 291.5 L65.7 297.5 L67.2 303.5 L68.7 309.5 L70.2 315.5 L72.2 320 L74 324.5 L76.2 327.5 L79.2 329 L82 330.11Z" fill="#505050" stroke="#111" stroke-width="0.9" stroke-linejoin="round"/><path d="M55 330.2 L57.5 329 L59 323 L60.2 315.5 L61.2 308 L62.3 300.5 L63.2 293 L63.8 285.5 L64.7 278 L65 272 L65.7 267.5 L66.8 272 L68 271.2 L69.2 275 L70.2 279.5 L71.3 285.5 L72.5 291.5 L73.7 297.5 L74.7 303.5 L75.8 309.5 L77 314 L78.5 318.5 L80 323 L81.8 326 L83.7 328.2 L87 330.09" fill="none" stroke="#bdbdbd" stroke-width="0.8" clip-path="url(#c20)"/><path d="M23.9 328.92 L24.8 328.84 L25.7 328.46 L26.6 329.59 L27.5 329.79 L28.4 328.65 L29.3 329.38 L30.2 329.32 L31.1 328.65 L32 329.6 L32.9 328.5 L33.8 329.13 L34.7 329.76 L35.6 328.48 L36.5 329 L37.4 329.74 L38.3 328.59 L39.2 328.69 L40.1 328.74 L41 328.86 L41.9 328.35 L42.8 329.82 L43.7 328.37 L44.6 328.87 L45.5 329.45 L46.4 328.91 L47.3 329.32 L48.2 328.84 L49.1 328.76 L50 329.03 L50.9 329.66 L51.8 329.22 L52.7 329.35 L53.6 328.68 L54.5 328.4 L55.4 328.63 L56.3 329 L57.2 329.54 L58.1 328.73 L59 329.39 L59.9 328.29 L60.8 329.52 L61.7 328.32 L62.6 329.75 L63.5 328.6 L64.4 329.25 L65.3 328.9 L66.2 329.14 L67.1 329.3 L68 329.1 L68.9 328.53 L69.8 329.22 L70.7 329.21 L71.6 328.57 L72.5 329.47 L73.4 329.2 L74.3 328.96 L75.2 328.96 L76.1 329.47 L77 328.58 L77.9 328.99 L78.8 329.58 L79.7 329.21 L80.6 329.63 L81.5 329.2 L82.4 329.54 L83.3 329.32 L84.2 328.87 L85.1 328.67 L86 329.25 L86.9 329 L87.8 328.92 L88.7 328.81 L89.6 328.33 L90.5 329.36 L91.4 328.52 L92.3 328.85 L93.2 328.33 L94.1 328.64 L95 329.66 L95.9 329.58 L96.8 328.47 L97.7 329.22 L98.6 328.74 L99.5 329.51 L100.4 328.81 L101.3 329.03 L102.2 328.95 L103.1 329.64 L104 328.3 L104.9 328.37 L105.8 328.52 L106.7 328.7 L107.6 329.29 L108.5 329.34 L109.4 328.37 L110.3 329.13 L111.2 329.04 L112.1 328.29 L113 329.09 L113.9 328.12 L114.8 329.33" fill="none" stroke="#222" stroke-width="0.7"/></g>
<g transform="matrix(1.00647 -0.00324 0.00752 0.99098 22.60000 264.40000)"><rect x="0" y="0" width="92.7" height="66.5" fill="none" stroke="#111" stroke-width="1.1"/><path d="M-4 66H0M-2 63.38H0M-2 60.76H0M-2 58.14H0M-2 55.52H0M-4 52.9H0M-2 50.28H0M-2 47.66H0M-2 45.04H0M-2 42.42H0M-4 39.8H0M-2 37.18H0M-2 34.56H0M-2 31.94H0M-2 29.32H0M-4 26.7H0M-2 24.08H0M-2 21.46H0M-2 18.84H0M-2 16.22H0M-4 13.6H0M-2 10.98H0M-2 8.36H0M-2 5.74H0M-2 3.12H0M-4 0.5H0M0 66.5V70.3M6.98 66.5V68.9M11.06 66.5V68.9M13.95 66.5V68.9M16.2 66.5V68.9M18.03 66.5V68.9M19.59 66.5V68.9M20.93 66.5V68.9M22.11 66.5V68.9M23.18 66.5V70.3M30.15 66.5V68.9M34.23 66.5V68.9M37.13 66.5V68.9M39.37 66.5V68.9M41.21 66.5V68.9M42.76 66.5V68.9M44.1 66.5V68.9M45.29 66.5V68.9M46.35 66.5V70.3M53.33 66.5V68.9M57.41 66.5V68.9M60.3 66.5V68.9M62.55 66.5V68.9M64.38 66.5V68.9M65.94 66.5V68.9M67.28 66.5V68.9M68.46 66.5V68.9M69.53 66.5V70.3M76.5 66.5V68.9M80.58 66.5V68.9M83.48 66.5V68.9M85.72 66.5V68.9M87.56 66.5V68.9M89.11 66.5V68.9M90.45 66.5V68.9M91.64 66.5V68.9M92.7 66.5V70.3" stroke="#000" stroke-width="1" fill="none"/><text transform="translate(-7.1 64.8) rotate(-90)" text-anchor="middle" style="font-family:&quot;Liberation Sans&quot;,sans-serif;stroke:#000;stroke-width:0.35px;font-size:7px" fill="#000">0</text><text transform="translate(-7.1 51.7) rotate(-90)" text-anchor="middle" style="font-family:&quot;Liberation Sans&quot;,sans-serif;stroke:#000;stroke-width:0.35px;font-size:7px" fill="#000">10</text><text transform="translate(-7.1 38.6) rotate(-90)" text-anchor="middle" style="font-family:&quot;Liberation Sans&quot;,sans-serif;stroke:#000;stroke-width:0.35px;font-size:7px" fill="#000">20</text><text transform="translate(-7.1 25.5) rotate(-90)" text-anchor="middle" style="font-family:&quot;Liberation Sans&quot;,sans-serif;stroke:#000;stroke-width:0.35px;font-size:7px" fill="#000">30</text><text transform="translate(-7.1 12.4) rotate(-90)" text-anchor="middle" style="font-family:&quot;Liberation Sans&quot;,sans-serif;stroke:#000;stroke-width:0.35px;font-size:7px" fill="#000">40</text><text transform="translate(-7.1 -0.7) rotate(-90)" text-anchor="middle" style="font-family:&quot;Liberation Sans&quot;,sans-serif;stroke:#000;stroke-width:0.35px;font-size:7px" fill="#000">50</text><text transform="translate(-15.9 34.25) rotate(-90)" text-anchor="middle" style="font-family:&quot;Liberation Sans&quot;,sans-serif;stroke:#000;stroke-width:0.35px;font-size:8px" fill="#000">Counts</text><text x="0.6" y="79.8" text-anchor="middle" style="font-family:&quot;Liberation Sans&quot;,sans-serif;stroke:#000;stroke-width:0.35px;font-size:7.4px;letter-spacing:0.35px" fill="#000">10<tspan dy="-3.6">0</tspan></text><text x="23.78" y="79.8" text-anchor="middle" style="font-family:&quot;Liberation Sans&quot;,sans-serif;stroke:#000;stroke-width:0.35px;font-size:7.4px;letter-spacing:0.35px" fill="#000">10<tspan dy="-3.6">1</tspan></text><text x="46.95" y="79.8" text-anchor="middle" style="font-family:&quot;Liberation Sans&quot;,sans-serif;stroke:#000;stroke-width:0.35px;font-size:7.4px;letter-spacing:0.35px" fill="#000">10<tspan dy="-3.6">2</tspan></text><text x="70.12" y="79.8" text-anchor="middle" style="font-family:&quot;Liberation Sans&quot;,sans-serif;stroke:#000;stroke-width:0.35px;font-size:7.4px;letter-spacing:0.35px" fill="#000">10<tspan dy="-3.6">3</tspan></text><text x="93.3" y="79.8" text-anchor="middle" style="font-family:&quot;Liberation Sans&quot;,sans-serif;stroke:#000;stroke-width:0.35px;font-size:7.4px;letter-spacing:0.35px" fill="#000">10<tspan dy="-3.6">4</tspan></text><text x="45.35" y="87.8" text-anchor="middle" style="font-family:&quot;Liberation Sans&quot;,sans-serif;stroke:#000;stroke-width:0.35px;font-size:7.5px" fill="#000">FL1-H</text></g>
<text x="80" y="276.9" style="font-family:&quot;Liberation Serif&quot;,serif;font-weight:bold;font-size:9px" fill="#111">VEGF</text>
<g><path d="M187 330.14 L190.5 328 L195 325 L198.7 320.5 L201 314.5 L202.8 307 L204 299.5 L204.7 292 L205.2 284.5 L205.8 277 L206.2 269.5 L207 265 L207.7 263.55 L208.8 266.5 L210 271 L211.2 277 L212.2 284.5 L213.3 290.5 L214.5 296.5 L215.7 302.5 L216.9 308.5 L218.2 314.5 L219.7 319.7 L221.7 323.5 L224.2 326.5 L228 328 L231 329.76" fill="none" stroke="#000" stroke-width="1.5" stroke-linejoin="round"/><path d="M182 330.18 L184.5 328 L187.5 325 L189.7 320.5 L191.7 313 L193.2 305.5 L194.2 298 L195.3 290.5 L196.5 284.5 L198 283 L199.2 278.5 L199.8 276.2 L200.7 281.5 L201.7 280 L202.8 280.7 L203.7 279.2 L204.7 283 L205.5 290.5 L206.7 298 L207.7 304 L208.8 310 L210.3 316 L212.2 320.5 L214.5 325 L217.5 327.2 L221 329.84Z" fill="#505050" stroke="#111" stroke-width="0.9" stroke-linejoin="round"/><path d="M187 330.14 L190.5 328 L195 325 L198.7 320.5 L201 314.5 L202.8 307 L204 299.5 L204.7 292 L205.2 284.5 L205.8 277 L206.2 269.5 L207 265 L207.7 263.55 L208.8 266.5 L210 271 L211.2 277 L212.2 284.5 L213.3 290.5 L214.5 296.5 L215.7 302.5 L216.9 308.5 L218.2 314.5 L219.7 319.7 L221.7 323.5 L224.2 326.5 L228 328 L231 329.76" fill="none" stroke="#bdbdbd" stroke-width="0.8" clip-path="url(#c21)"/><path d="M157.5 329.82 L158.4 329.79 L159.3 329.08 L160.2 329.7 L161.1 329.76 L162 329.26 L162.9 329.32 L163.8 329.62 L164.7 329.34 L165.6 328.66 L166.5 329.72 L167.4 329.63 L168.3 329.86 L169.2 329.53 L170.1 329.74 L171 328.4 L171.9 329.4 L172.8 328.38 L173.7 329.66 L174.6 328.49 L175.5 329.08 L176.4 328.79 L177.3 328.83 L178.2 329.41 L179.1 329.46 L180 328.78 L180.9 329.59 L181.8 329.76 L182.7 328.62 L183.6 328.82 L184.5 329.37 L185.4 328.97 L186.3 328.38 L187.2 329.32 L188.1 329.54 L189 329.1 L189.9 329.46 L190.8 329.15 L191.7 329.65 L192.6 328.54 L193.5 328.47 L194.4 329.11 L195.3 329.1 L196.2 329.27 L197.1 328.22 L198 328.33 L198.9 328.64 L199.8 329.37 L200.7 329.36 L201.6 328.46 L202.5 329.32 L203.4 328.56 L204.3 328.96 L205.2 329.53 L206.1 329.28 L207 328.2 L207.9 329.07 L208.8 328.54 L209.7 328.4 L210.6 328.94 L211.5 328.78 L212.4 328.23 L213.3 328.42 L214.2 328.72 L215.1 328.68 L216 328.82 L216.9 328.84 L217.8 328.47 L218.7 329.1 L219.6 328.16 L220.5 329.01 L221.4 329.09 L222.3 327.99 L223.2 329.4 L224.1 328.81 L225 328.58 L225.9 328.74 L226.8 328.15 L227.7 328.38 L228.6 328.62 L229.5 329.37 L230.4 327.89 L231.3 328.81 L232.2 328.81 L233.1 329.01 L234 329.04 L234.9 329.17 L235.8 329.12 L236.7 328.3 L237.6 328.86 L238.5 328.53 L239.4 328.31 L240.3 329.17 L241.2 328.13 L242.1 328.97 L243 328.05 L243.9 327.91 L244.8 328.56 L245.7 328.75 L246.6 328.46 L247.5 327.87 L248.4 327.74" fill="none" stroke="#222" stroke-width="0.7"/></g>
<g transform="matrix(0.99892 -0.00863 0.01353 1.00301 155.80000 263.70000)"><rect x="0" y="0" width="92.7" height="66.5" fill="none" stroke="#111" stroke-width="1.1"/><path d="M-4 66H0M-2 63.38H0M-2 60.76H0M-2 58.14H0M-2 55.52H0M-4 52.9H0M-2 50.28H0M-2 47.66H0M-2 45.04H0M-2 42.42H0M-4 39.8H0M-2 37.18H0M-2 34.56H0M-2 31.94H0M-2 29.32H0M-4 26.7H0M-2 24.08H0M-2 21.46H0M-2 18.84H0M-2 16.22H0M-4 13.6H0M-2 10.98H0M-2 8.36H0M-2 5.74H0M-2 3.12H0M-4 0.5H0M0 66.5V70.3M6.98 66.5V68.9M11.06 66.5V68.9M13.95 66.5V68.9M16.2 66.5V68.9M18.03 66.5V68.9M19.59 66.5V68.9M20.93 66.5V68.9M22.11 66.5V68.9M23.18 66.5V70.3M30.15 66.5V68.9M34.23 66.5V68.9M37.13 66.5V68.9M39.37 66.5V68.9M41.21 66.5V68.9M42.76 66.5V68.9M44.1 66.5V68.9M45.29 66.5V68.9M46.35 66.5V70.3M53.33 66.5V68.9M57.41 66.5V68.9M60.3 66.5V68.9M62.55 66.5V68.9M64.38 66.5V68.9M65.94 66.5V68.9M67.28 66.5V68.9M68.46 66.5V68.9M69.53 66.5V70.3M76.5 66.5V68.9M80.58 66.5V68.9M83.48 66.5V68.9M85.72 66.5V68.9M87.56 66.5V68.9M89.11 66.5V68.9M90.45 66.5V68.9M91.64 66.5V68.9M92.7 66.5V70.3" stroke="#000" stroke-width="1" fill="none"/><text transform="translate(-7.1 64.8) rotate(-90)" text-anchor="middle" style="font-family:&quot;Liberation Sans&quot;,sans-serif;stroke:#000;stroke-width:0.35px;font-size:7px" fill="#000">0</text><text transform="translate(-7.1 51.7) rotate(-90)" text-anchor="middle" style="font-family:&quot;Liberation Sans&quot;,sans-serif;stroke:#000;stroke-width:0.35px;font-size:7px" fill="#000">10</text><text transform="translate(-7.1 38.6) rotate(-90)" text-anchor="middle" style="font-family:&quot;Liberation Sans&quot;,sans-serif;stroke:#000;stroke-width:0.35px;font-size:7px" fill="#000">20</text><text transform="translate(-7.1 25.5) rotate(-90)" text-anchor="middle" style="font-family:&quot;Liberation Sans&quot;,sans-serif;stroke:#000;stroke-width:0.35px;font-size:7px" fill="#000">30</text><text transform="translate(-7.1 12.4) rotate(-90)" text-anchor="middle" style="font-family:&quot;Liberation Sans&quot;,sans-serif;stroke:#000;stroke-width:0.35px;font-size:7px" fill="#000">40</text><text transform="translate(-7.1 -0.7) rotate(-90)" text-anchor="middle" style="font-family:&quot;Liberation Sans&quot;,sans-serif;stroke:#000;stroke-width:0.35px;font-size:7px" fill="#000">50</text><text transform="translate(-15.9 34.25) rotate(-90)" text-anchor="middle" style="font-family:&quot;Liberation Sans&quot;,sans-serif;stroke:#000;stroke-width:0.35px;font-size:8px" fill="#000">Counts</text><text x="0.6" y="79.8" text-anchor="middle" style="font-family:&quot;Liberation Sans&quot;,sans-serif;stroke:#000;stroke-width:0.35px;font-size:7.4px;letter-spacing:0.35px" fill="#000">10<tspan dy="-3.6">0</tspan></text><text x="23.78" y="79.8" text-anchor="middle" style="font-family:&quot;Liberation Sans&quot;,sans-serif;stroke:#000;stroke-width:0.35px;font-size:7.4px;letter-spacing:0.35px" fill="#000">10<tspan dy="-3.6">1</tspan></text><text x="46.95" y="79.8" text-anchor="middle" style="font-family:&quot;Liberation Sans&quot;,sans-serif;stroke:#000;stroke-width:0.35px;font-size:7.4px;letter-spacing:0.35px" fill="#000">10<tspan dy="-3.6">2</tspan></text><text x="70.12" y="79.8" text-anchor="middle" style="font-family:&quot;Liberation Sans&quot;,sans-serif;stroke:#000;stroke-width:0.35px;font-size:7.4px;letter-spacing:0.35px" fill="#000">10<tspan dy="-3.6">3</tspan></text><text x="93.3" y="79.8" text-anchor="middle" style="font-family:&quot;Liberation Sans&quot;,sans-serif;stroke:#000;stroke-width:0.35px;font-size:7.4px;letter-spacing:0.35px" fill="#000">10<tspan dy="-3.6">4</tspan></text><text x="45.35" y="87.8" text-anchor="middle" style="font-family:&quot;Liberation Sans&quot;,sans-serif;stroke:#000;stroke-width:0.35px;font-size:7.5px" fill="#000">FL1-H</text></g>
<text x="214.4" y="277.7" style="font-family:&quot;Liberation Serif&quot;,serif;font-weight:bold;font-size:9px" fill="#111">VEGF</text>
<g><path d="M301 330.94 L304.1 329.5 L307.8 325.8 L310.9 320.8 L312.8 314.7 L314 309.7 L314.6 304.7 L315.3 301 L316.3 298.5 L317.1 294.8 L318 291.1 L319 288.6 L320.2 286.2 L321.5 284.9 L322.7 283.1 L323.9 281.8 L324.9 284.3 L325.8 286.8 L326.7 289.9 L327.4 293.6 L328.3 299.8 L328.9 304.7 L329.9 309.7 L330.8 314.7 L332 319.6 L333.2 323.3 L334.5 325.8 L336.3 327.7 L340 328 L346.5 328.2 L354.2 328.7 L370 329.8 L379 331.2" fill="none" stroke="#000" stroke-width="1.5" stroke-linejoin="round"/><path d="M290 330.91 L293 329.5 L295.4 324.6 L297.3 319.6 L299.2 313.4 L300.4 308.5 L301.6 302.3 L302.6 296.1 L303.1 291.1 L303.5 287.4 L304.7 286.8 L306 286.2 L307.2 285.5 L308.1 283.7 L309.1 287.4 L310.3 289.9 L311.5 293.6 L312.8 297.3 L313.8 301 L314.6 306 L315.5 310.9 L316.7 314.7 L318.4 318.4 L320.2 321.5 L322.1 323.3 L323.9 324.6 L326.4 327 L330.1 328.9 L334 331.05Z" fill="#505050" stroke="#111" stroke-width="0.9" stroke-linejoin="round"/><path d="M301 330.94 L304.1 329.5 L307.8 325.8 L310.9 320.8 L312.8 314.7 L314 309.7 L314.6 304.7 L315.3 301 L316.3 298.5 L317.1 294.8 L318 291.1 L319 288.6 L320.2 286.2 L321.5 284.9 L322.7 283.1 L323.9 281.8 L324.9 284.3 L325.8 286.8 L326.7 289.9 L327.4 293.6 L328.3 299.8 L328.9 304.7 L329.9 309.7 L330.8 314.7 L332 319.6 L333.2 323.3 L334.5 325.8 L336.3 327.7 L340 328 L346.5 328.2 L354.2 328.7 L370 329.8 L379 331.2" fill="none" stroke="#bdbdbd" stroke-width="0.8" clip-path="url(#c22)"/><path d="M288.4 329.68 L289.3 329.99 L290.2 329.24 L291.1 330.08 L292 329.75 L292.9 330 L293.8 329.9 L294.7 329.06 L295.6 330.37 L296.5 329.86 L297.4 330.19 L298.3 330.01 L299.2 329.04 L300.1 330.05 L301 329.63 L301.9 329.92 L302.8 329.45 L303.7 329.88 L304.6 330.3 L305.5 329.91 L306.4 329.95 L307.3 329.37 L308.2 329.72 L309.1 330.28 L310 329.56 L310.9 330.13 L311.8 329.81 L312.7 330.25 L313.6 329.97 L314.5 329.41 L315.4 329.82 L316.3 329.46 L317.2 329.46 L318.1 329.72 L319 329.63 L319.9 330.01 L320.8 329.68 L321.7 329.44 L322.6 330.46 L323.5 329.21 L324.4 330.07 L325.3 330.41 L326.2 330.4 L327.1 330.12 L328 330.53 L328.9 330.04 L329.8 330.01 L330.7 329.66 L331.6 329.94 L332.5 329.24 L333.4 329.66 L334.3 330.17 L335.2 329.34 L336.1 329.61 L337 329.21 L337.9 329.56 L338.8 329.22 L339.7 330.36 L340.6 330.25 L341.5 329.22 L342.4 330.64 L343.3 329.29 L344.2 329.32 L345.1 330.48 L346 330.46 L346.9 329.32 L347.8 329.26 L348.7 329.39 L349.6 329.61 L350.5 329.56 L351.4 330.24 L352.3 330.7 L353.2 329.77 L354.1 329.39 L355 329.29 L355.9 329.95 L356.8 330.71 L357.7 330.47 L358.6 330.06 L359.5 330.39 L360.4 330.69 L361.3 330.45 L362.2 329.99 L363.1 330.55 L364 330.58 L364.9 330.5 L365.8 330.7 L366.7 329.58 L367.6 329.46 L368.5 330.46 L369.4 329.81 L370.3 329.45 L371.2 330.41 L372.1 330.27 L373 329.45 L373.9 329.64 L374.8 329.85 L375.7 329.59 L376.6 329.93 L377.5 330.32 L378.4 329.77 L379.3 329.62" fill="none" stroke="#222" stroke-width="0.7"/></g>
<g transform="matrix(0.99892 0.00324 0.00000 0.99098 287.60000 265.00000)"><rect x="0" y="0" width="92.7" height="66.5" fill="none" stroke="#111" stroke-width="1.1"/><path d="M-4 66H0M-2 63.38H0M-2 60.76H0M-2 58.14H0M-2 55.52H0M-4 52.9H0M-2 50.28H0M-2 47.66H0M-2 45.04H0M-2 42.42H0M-4 39.8H0M-2 37.18H0M-2 34.56H0M-2 31.94H0M-2 29.32H0M-4 26.7H0M-2 24.08H0M-2 21.46H0M-2 18.84H0M-2 16.22H0M-4 13.6H0M-2 10.98H0M-2 8.36H0M-2 5.74H0M-2 3.12H0M-4 0.5H0M0 66.5V70.3M6.98 66.5V68.9M11.06 66.5V68.9M13.95 66.5V68.9M16.2 66.5V68.9M18.03 66.5V68.9M19.59 66.5V68.9M20.93 66.5V68.9M22.11 66.5V68.9M23.18 66.5V70.3M30.15 66.5V68.9M34.23 66.5V68.9M37.13 66.5V68.9M39.37 66.5V68.9M41.21 66.5V68.9M42.76 66.5V68.9M44.1 66.5V68.9M45.29 66.5V68.9M46.35 66.5V70.3M53.33 66.5V68.9M57.41 66.5V68.9M60.3 66.5V68.9M62.55 66.5V68.9M64.38 66.5V68.9M65.94 66.5V68.9M67.28 66.5V68.9M68.46 66.5V68.9M69.53 66.5V70.3M76.5 66.5V68.9M80.58 66.5V68.9M83.48 66.5V68.9M85.72 66.5V68.9M87.56 66.5V68.9M89.11 66.5V68.9M90.45 66.5V68.9M91.64 66.5V68.9M92.7 66.5V70.3" stroke="#000" stroke-width="1" fill="none"/><text transform="translate(-7.1 64.8) rotate(-90)" text-anchor="middle" style="font-family:&quot;Liberation Sans&quot;,sans-serif;stroke:#000;stroke-width:0.35px;font-size:7px" fill="#000">0</text><text transform="translate(-7.1 51.7) rotate(-90)" text-anchor="middle" style="font-family:&quot;Liberation Sans&quot;,sans-serif;stroke:#000;stroke-width:0.35px;font-size:7px" fill="#000">10</text><text transform="translate(-7.1 38.6) rotate(-90)" text-anchor="middle" style="font-family:&quot;Liberation Sans&quot;,sans-serif;stroke:#000;stroke-width:0.35px;font-size:7px" fill="#000">20</text><text transform="translate(-7.1 25.5) rotate(-90)" text-anchor="middle" style="font-family:&quot;Liberation Sans&quot;,sans-serif;stroke:#000;stroke-width:0.35px;font-size:7px" fill="#000">30</text><text transform="translate(-7.1 12.4) rotate(-90)" text-anchor="middle" style="font-family:&quot;Liberation Sans&quot;,sans-serif;stroke:#000;stroke-width:0.35px;font-size:7px" fill="#000">40</text><text transform="translate(-7.1 -0.7) rotate(-90)" text-anchor="middle" style="font-family:&quot;Liberation Sans&quot;,sans-serif;stroke:#000;stroke-width:0.35px;font-size:7px" fill="#000">50</text><text transform="translate(-15.9 34.25) rotate(-90)" text-anchor="middle" style="font-family:&quot;Liberation Sans&quot;,sans-serif;stroke:#000;stroke-width:0.35px;font-size:8px" fill="#000">Counts</text><text x="0.6" y="79.8" text-anchor="middle" style="font-family:&quot;Liberation Sans&quot;,sans-serif;stroke:#000;stroke-width:0.35px;font-size:7.4px;letter-spacing:0.35px" fill="#000">10<tspan dy="-3.6">0</tspan></text><text x="23.78" y="79.8" text-anchor="middle" style="font-family:&quot;Liberation Sans&quot;,sans-serif;stroke:#000;stroke-width:0.35px;font-size:7.4px;letter-spacing:0.35px" fill="#000">10<tspan dy="-3.6">1</tspan></text><text x="46.95" y="79.8" text-anchor="middle" style="font-family:&quot;Liberation Sans&quot;,sans-serif;stroke:#000;stroke-width:0.35px;font-size:7.4px;letter-spacing:0.35px" fill="#000">10<tspan dy="-3.6">2</tspan></text><text x="70.12" y="79.8" text-anchor="middle" style="font-family:&quot;Liberation Sans&quot;,sans-serif;stroke:#000;stroke-width:0.35px;font-size:7.4px;letter-spacing:0.35px" fill="#000">10<tspan dy="-3.6">3</tspan></text><text x="93.3" y="79.8" text-anchor="middle" style="font-family:&quot;Liberation Sans&quot;,sans-serif;stroke:#000;stroke-width:0.35px;font-size:7.4px;letter-spacing:0.35px" fill="#000">10<tspan dy="-3.6">4</tspan></text><text x="45.35" y="87.8" text-anchor="middle" style="font-family:&quot;Liberation Sans&quot;,sans-serif;stroke:#000;stroke-width:0.35px;font-size:7.5px" fill="#000">FL1-H</text></g>
<text x="349.4" y="276.9" style="font-family:&quot;Liberation Serif&quot;,serif;font-weight:bold;font-size:9px" fill="#111">VEGF</text>
<g><path d="M453 327.95 L455 326.5 L455 309.7 L456 315.1 L457.3 316.4 L458.3 312.4 L459.3 307 L460.4 301.6 L461.4 297.6 L462.3 293.5 L463.1 289.5 L464.1 288.8 L465.4 289.5 L466.3 285.5 L466.7 282.8 L467.4 288.2 L468.5 289.5 L469.4 292.2 L470.4 294.9 L471.5 297.6 L472.5 300.3 L473.5 303 L474.1 307 L475.5 311 L476.8 315.1 L478.2 318.4 L479.5 321.1 L481.1 323.1 L483.6 324.5 L486.2 325.5 L493.9 325.3 L503.5 326 L511 328.39" fill="none" stroke="#000" stroke-width="1.5" stroke-linejoin="round"/><path d="M426 327.74 L428.4 326.5 L431.1 324.5 L433.1 320.5 L434.4 315.1 L435.8 308.3 L437.1 303 L438.5 297.6 L439.8 290.8 L440.8 286.8 L441.8 285.5 L442.9 284.1 L443.5 280.1 L444.3 285.5 L445.2 288.2 L446.6 292.2 L447.9 296.2 L449.2 300.3 L450.6 304.3 L451.9 308.3 L453.3 312.4 L454.6 316.4 L456 319.1 L457.3 321.1 L458.7 321.8 L460 323.1 L462 325.2 L464.7 325.8 L468 328.06Z" fill="#505050" stroke="#111" stroke-width="0.9" stroke-linejoin="round"/><path d="M453 327.95 L455 326.5 L455 309.7 L456 315.1 L457.3 316.4 L458.3 312.4 L459.3 307 L460.4 301.6 L461.4 297.6 L462.3 293.5 L463.1 289.5 L464.1 288.8 L465.4 289.5 L466.3 285.5 L466.7 282.8 L467.4 288.2 L468.5 289.5 L469.4 292.2 L470.4 294.9 L471.5 297.6 L472.5 300.3 L473.5 303 L474.1 307 L475.5 311 L476.8 315.1 L478.2 318.4 L479.5 321.1 L481.1 323.1 L483.6 324.5 L486.2 325.5 L493.9 325.3 L503.5 326 L511 328.39" fill="none" stroke="#bdbdbd" stroke-width="0.8" clip-path="url(#c23)"/><path d="M421.5 326.5 L422.4 326.88 L423.3 327.27 L424.2 326.35 L425.1 327.02 L426 326.95 L426.9 326.75 L427.8 326.39 L428.7 325.88 L429.6 326.68 L430.5 325.88 L431.4 325.89 L432.3 327.02 L433.2 327.29 L434.1 327.16 L435 326.15 L435.9 326.52 L436.8 326.05 L437.7 325.97 L438.6 326.45 L439.5 326.64 L440.4 327.35 L441.3 327.42 L442.2 326.26 L443.1 326.46 L444 326.33 L444.9 326.64 L445.8 326.48 L446.7 326.54 L447.6 326.16 L448.5 327.34 L449.4 326.78 L450.3 327.06 L451.2 326.29 L452.1 326.22 L453 327.17 L453.9 327.43 L454.8 327.19 L455.7 327.09 L456.6 326.42 L457.5 326.97 L458.4 326.46 L459.3 327.14 L460.2 326.81 L461.1 327.33 L462 326.65 L462.9 326.85 L463.8 326.33 L464.7 326.21 L465.6 326.86 L466.5 327.55 L467.4 326.25 L468.3 326.24 L469.2 326.96 L470.1 326.95 L471 326.28 L471.9 327.31 L472.8 327.31 L473.7 326.66 L474.6 326.7 L475.5 326.69 L476.4 326.48 L477.3 326.96 L478.2 327.11 L479.1 327.41 L480 327.43 L480.9 327.2 L481.8 327.12 L482.7 326.66 L483.6 326.85 L484.5 327.02 L485.4 327.22 L486.3 326.86 L487.2 327.23 L488.1 326.62 L489 326.85 L489.9 326.78 L490.8 327.27 L491.7 327.06 L492.6 326.76 L493.5 326.42 L494.4 327.07 L495.3 327.39 L496.2 326.84 L497.1 327.7 L498 327.39 L498.9 327.85 L499.8 327.07 L500.7 327.53 L501.6 327.33 L502.5 326.74 L503.4 326.98 L504.3 327.88 L505.2 327.28 L506.1 327.94 L507 326.72 L507.9 327.22 L508.8 326.69 L509.7 327.58 L510.6 326.75 L511.5 327.78" fill="none" stroke="#222" stroke-width="0.7"/></g>
<g transform="matrix(0.99353 0.00755 0.00301 0.99549 420.50000 261.50000)"><rect x="0" y="0" width="92.7" height="66.5" fill="none" stroke="#111" stroke-width="1.1"/><path d="M-4 66H0M-2 63.38H0M-2 60.76H0M-2 58.14H0M-2 55.52H0M-4 52.9H0M-2 50.28H0M-2 47.66H0M-2 45.04H0M-2 42.42H0M-4 39.8H0M-2 37.18H0M-2 34.56H0M-2 31.94H0M-2 29.32H0M-4 26.7H0M-2 24.08H0M-2 21.46H0M-2 18.84H0M-2 16.22H0M-4 13.6H0M-2 10.98H0M-2 8.36H0M-2 5.74H0M-2 3.12H0M-4 0.5H0M0 66.5V70.3M6.98 66.5V68.9M11.06 66.5V68.9M13.95 66.5V68.9M16.2 66.5V68.9M18.03 66.5V68.9M19.59 66.5V68.9M20.93 66.5V68.9M22.11 66.5V68.9M23.18 66.5V70.3M30.15 66.5V68.9M34.23 66.5V68.9M37.13 66.5V68.9M39.37 66.5V68.9M41.21 66.5V68.9M42.76 66.5V68.9M44.1 66.5V68.9M45.29 66.5V68.9M46.35 66.5V70.3M53.33 66.5V68.9M57.41 66.5V68.9M60.3 66.5V68.9M62.55 66.5V68.9M64.38 66.5V68.9M65.94 66.5V68.9M67.28 66.5V68.9M68.46 66.5V68.9M69.53 66.5V70.3M76.5 66.5V68.9M80.58 66.5V68.9M83.48 66.5V68.9M85.72 66.5V68.9M87.56 66.5V68.9M89.11 66.5V68.9M90.45 66.5V68.9M91.64 66.5V68.9M92.7 66.5V70.3" stroke="#000" stroke-width="1" fill="none"/><text transform="translate(-7.1 64.8) rotate(-90)" text-anchor="middle" style="font-family:&quot;Liberation Sans&quot;,sans-serif;stroke:#000;stroke-width:0.35px;font-size:7px" fill="#000">0</text><text transform="translate(-7.1 51.7) rotate(-90)" text-anchor="middle" style="font-family:&quot;Liberation Sans&quot;,sans-serif;stroke:#000;stroke-width:0.35px;font-size:7px" fill="#000">10</text><text transform="translate(-7.1 38.6) rotate(-90)" text-anchor="middle" style="font-family:&quot;Liberation Sans&quot;,sans-serif;stroke:#000;stroke-width:0.35px;font-size:7px" fill="#000">20</text><text transform="translate(-7.1 25.5) rotate(-90)" text-anchor="middle" style="font-family:&quot;Liberation Sans&quot;,sans-serif;stroke:#000;stroke-width:0.35px;font-size:7px" fill="#000">30</text><text transform="translate(-7.1 12.4) rotate(-90)" text-anchor="middle" style="font-family:&quot;Liberation Sans&quot;,sans-serif;stroke:#000;stroke-width:0.35px;font-size:7px" fill="#000">40</text><text transform="translate(-7.1 -0.7) rotate(-90)" text-anchor="middle" style="font-family:&quot;Liberation Sans&quot;,sans-serif;stroke:#000;stroke-width:0.35px;font-size:7px" fill="#000">50</text><text transform="translate(-15.9 34.25) rotate(-90)" text-anchor="middle" style="font-family:&quot;Liberation Sans&quot;,sans-serif;stroke:#000;stroke-width:0.35px;font-size:8px" fill="#000">Counts</text><text x="0.6" y="79.8" text-anchor="middle" style="font-family:&quot;Liberation Sans&quot;,sans-serif;stroke:#000;stroke-width:0.35px;font-size:7.4px;letter-spacing:0.35px" fill="#000">10<tspan dy="-3.6">0</tspan></text><text x="23.78" y="79.8" text-anchor="middle" style="font-family:&quot;Liberation Sans&quot;,sans-serif;stroke:#000;stroke-width:0.35px;font-size:7.4px;letter-spacing:0.35px" fill="#000">10<tspan dy="-3.6">1</tspan></text><text x="46.95" y="79.8" text-anchor="middle" style="font-family:&quot;Liberation Sans&quot;,sans-serif;stroke:#000;stroke-width:0.35px;font-size:7.4px;letter-spacing:0.35px" fill="#000">10<tspan dy="-3.6">2</tspan></text><text x="70.12" y="79.8" text-anchor="middle" style="font-family:&quot;Liberation Sans&quot;,sans-serif;stroke:#000;stroke-width:0.35px;font-size:7.4px;letter-spacing:0.35px" fill="#000">10<tspan dy="-3.6">3</tspan></text><text x="93.3" y="79.8" text-anchor="middle" style="font-family:&quot;Liberation Sans&quot;,sans-serif;stroke:#000;stroke-width:0.35px;font-size:7.4px;letter-spacing:0.35px" fill="#000">10<tspan dy="-3.6">4</tspan></text><text x="45.35" y="87.8" text-anchor="middle" style="font-family:&quot;Liberation Sans&quot;,sans-serif;stroke:#000;stroke-width:0.35px;font-size:7.5px" fill="#000">FL1-H</text></g>
<text x="485.3" y="278.2" style="font-family:&quot;Liberation Serif&quot;,serif;font-weight:bold;font-size:9px" fill="#111">VEGF</text>
<g><path d="M52 436.94 L54.5 435 L59 432 L61.2 426 L62.7 418.5 L63.8 411 L64.7 403.5 L65.4 396 L66 388.5 L66.8 381 L67.5 378.7 L68 377.2 L68.7 375 L69.8 373.5 L70.7 370.4 L72.2 370.39 L72.8 375 L73.7 382.5 L74.7 390 L75.8 397.5 L77 405 L78.2 411 L79.2 417 L80.3 423 L81.8 428.2 L83.7 432 L86 434.2 L89 436.86" fill="none" stroke="#000" stroke-width="1.5" stroke-linejoin="round"/><path d="M43 436.96 L45.5 435 L48.5 432 L51.5 427.5 L53.7 421.5 L55.2 414 L56.7 406.5 L57.8 399 L59 391.5 L60.2 384 L61.2 378 L62 372 L62.4 370.42 L64.7 370.41 L65.3 375 L65.7 382.5 L66.5 390 L67.2 397.5 L68 405 L69.2 412.5 L70.7 418.5 L72.5 424.5 L74.7 429 L77.7 432.7 L80.7 435 L84 436.87Z" fill="#505050" stroke="#111" stroke-width="0.9" stroke-linejoin="round"/><path d="M52 436.94 L54.5 435 L59 432 L61.2 426 L62.7 418.5 L63.8 411 L64.7 403.5 L65.4 396 L66 388.5 L66.8 381 L67.5 378.7 L68 377.2 L68.7 375 L69.8 373.5 L70.7 370.4 L72.2 370.39 L72.8 375 L73.7 382.5 L74.7 390 L75.8 397.5 L77 405 L78.2 411 L79.2 417 L80.3 423 L81.8 428.2 L83.7 432 L86 434.2 L89 436.86" fill="none" stroke="#bdbdbd" stroke-width="0.8" clip-path="url(#c30)"/><path d="M24.5 435.58 L25.4 436.46 L26.3 435.67 L27.2 435.33 L28.1 435.34 L29 435.82 L29.9 435.64 L30.8 436.03 L31.7 435.79 L32.6 436.42 L33.5 435.55 L34.4 435.68 L35.3 436.15 L36.2 436.01 L37.1 435.47 L38 435.9 L38.9 435.13 L39.8 435.11 L40.7 435.31 L41.6 436.42 L42.5 436.45 L43.4 436.12 L44.3 436.01 L45.2 435.5 L46.1 435.31 L47 435.71 L47.9 435.59 L48.8 435.69 L49.7 436.49 L50.6 435.75 L51.5 436.22 L52.4 435.91 L53.3 436.52 L54.2 435.55 L55.1 435.17 L56 436.43 L56.9 435.66 L57.8 436.49 L58.7 436 L59.6 436.28 L60.5 435.23 L61.4 435.43 L62.3 435.17 L63.2 436.19 L64.1 435.43 L65 435.46 L65.9 435.74 L66.8 435.13 L67.7 435.57 L68.6 436.08 L69.5 435.43 L70.4 435.78 L71.3 436.18 L72.2 435.57 L73.1 436.42 L74 435.82 L74.9 435.65 L75.8 436.48 L76.7 435.51 L77.6 436.35 L78.5 435.51 L79.4 435.97 L80.3 436.43 L81.2 434.98 L82.1 436.38 L83 436.24 L83.9 435.71 L84.8 436.1 L85.7 435.67 L86.6 435.75 L87.5 435.6 L88.4 435.65 L89.3 436.02 L90.2 436.14 L91.1 435.41 L92 435.81 L92.9 435.67 L93.8 435.08 L94.7 436.43 L95.6 436.03 L96.5 435.6 L97.4 436.36 L98.3 435.31 L99.2 435.84 L100.1 435.96 L101 436.14 L101.9 434.98 L102.8 436.36 L103.7 435.2 L104.6 435.37 L105.5 435.08 L106.4 435.37 L107.3 435.9 L108.2 435.59 L109.1 435.03 L110 436.35 L110.9 435.14 L111.8 435.4 L112.7 436.11 L113.6 434.96 L114.5 435.96 L115.4 436.4" fill="none" stroke="#222" stroke-width="0.7"/></g>
<g transform="matrix(1.00324 -0.00216 0.00602 1.00451 23.30000 370.20000)"><rect x="0" y="0" width="92.7" height="66.5" fill="none" stroke="#111" stroke-width="1.1"/><path d="M-4 66H0M-2 63.38H0M-2 60.76H0M-2 58.14H0M-2 55.52H0M-4 52.9H0M-2 50.28H0M-2 47.66H0M-2 45.04H0M-2 42.42H0M-4 39.8H0M-2 37.18H0M-2 34.56H0M-2 31.94H0M-2 29.32H0M-4 26.7H0M-2 24.08H0M-2 21.46H0M-2 18.84H0M-2 16.22H0M-4 13.6H0M-2 10.98H0M-2 8.36H0M-2 5.74H0M-2 3.12H0M-4 0.5H0M0 66.5V70.3M6.98 66.5V68.9M11.06 66.5V68.9M13.95 66.5V68.9M16.2 66.5V68.9M18.03 66.5V68.9M19.59 66.5V68.9M20.93 66.5V68.9M22.11 66.5V68.9M23.18 66.5V70.3M30.15 66.5V68.9M34.23 66.5V68.9M37.13 66.5V68.9M39.37 66.5V68.9M41.21 66.5V68.9M42.76 66.5V68.9M44.1 66.5V68.9M45.29 66.5V68.9M46.35 66.5V70.3M53.33 66.5V68.9M57.41 66.5V68.9M60.3 66.5V68.9M62.55 66.5V68.9M64.38 66.5V68.9M65.94 66.5V68.9M67.28 66.5V68.9M68.46 66.5V68.9M69.53 66.5V70.3M76.5 66.5V68.9M80.58 66.5V68.9M83.48 66.5V68.9M85.72 66.5V68.9M87.56 66.5V68.9M89.11 66.5V68.9M90.45 66.5V68.9M91.64 66.5V68.9M92.7 66.5V70.3" stroke="#000" stroke-width="1" fill="none"/><text transform="translate(-7.1 64.8) rotate(-90)" text-anchor="middle" style="font-family:&quot;Liberation Sans&quot;,sans-serif;stroke:#000;stroke-width:0.35px;font-size:7px" fill="#000">0</text><text transform="translate(-7.1 51.7) rotate(-90)" text-anchor="middle" style="font-family:&quot;Liberation Sans&quot;,sans-serif;stroke:#000;stroke-width:0.35px;font-size:7px" fill="#000">10</text><text transform="translate(-7.1 38.6) rotate(-90)" text-anchor="middle" style="font-family:&quot;Liberation Sans&quot;,sans-serif;stroke:#000;stroke-width:0.35px;font-size:7px" fill="#000">20</text><text transform="translate(-7.1 25.5) rotate(-90)" text-anchor="middle" style="font-family:&quot;Liberation Sans&quot;,sans-serif;stroke:#000;stroke-width:0.35px;font-size:7px" fill="#000">30</text><text transform="translate(-7.1 12.4) rotate(-90)" text-anchor="middle" style="font-family:&quot;Liberation Sans&quot;,sans-serif;stroke:#000;stroke-width:0.35px;font-size:7px" fill="#000">40</text><text transform="translate(-7.1 -0.7) rotate(-90)" text-anchor="middle" style="font-family:&quot;Liberation Sans&quot;,sans-serif;stroke:#000;stroke-width:0.35px;font-size:7px" fill="#000">50</text><text transform="translate(-15.9 34.25) rotate(-90)" text-anchor="middle" style="font-family:&quot;Liberation Sans&quot;,sans-serif;stroke:#000;stroke-width:0.35px;font-size:8px" fill="#000">Counts</text><text x="0.6" y="79.8" text-anchor="middle" style="font-family:&quot;Liberation Sans&quot;,sans-serif;stroke:#000;stroke-width:0.35px;font-size:7.4px;letter-spacing:0.35px" fill="#000">10<tspan dy="-3.6">0</tspan></text><text x="23.78" y="79.8" text-anchor="middle" style="font-family:&quot;Liberation Sans&quot;,sans-serif;stroke:#000;stroke-width:0.35px;font-size:7.4px;letter-spacing:0.35px" fill="#000">10<tspan dy="-3.6">1</tspan></text><text x="46.95" y="79.8" text-anchor="middle" style="font-family:&quot;Liberation Sans&quot;,sans-serif;stroke:#000;stroke-width:0.35px;font-size:7.4px;letter-spacing:0.35px" fill="#000">10<tspan dy="-3.6">2</tspan></text><text x="70.12" y="79.8" text-anchor="middle" style="font-family:&quot;Liberation Sans&quot;,sans-serif;stroke:#000;stroke-width:0.35px;font-size:7.4px;letter-spacing:0.35px" fill="#000">10<tspan dy="-3.6">3</tspan></text><text x="93.3" y="79.8" text-anchor="middle" style="font-family:&quot;Liberation Sans&quot;,sans-serif;stroke:#000;stroke-width:0.35px;font-size:7.4px;letter-spacing:0.35px" fill="#000">10<tspan dy="-3.6">4</tspan></text><text x="45.35" y="87.8" text-anchor="middle" style="font-family:&quot;Liberation Sans&quot;,sans-serif;stroke:#000;stroke-width:0.35px;font-size:7.5px" fill="#000">FL1-H</text></g>
<text x="78.7" y="380.4" style="font-family:&quot;Liberation Serif&quot;,serif;font-weight:bold;font-size:9px" fill="#111">SDF-1α</text>
<g><path d="M183 436.06 L185.5 434.2 L191.1 431.4 L194.7 425.7 L196.8 418.7 L198.5 413 L199.9 407.4 L201.3 401.7 L202.7 396 L203.9 390.4 L205 386.1 L206 381.9 L206.7 380.5 L207.8 383.3 L208.8 386.1 L209.8 387.6 L210.7 391.8 L211.7 397.5 L212.6 403.1 L213.8 408.8 L214.9 414.4 L216 420.1 L217.3 425 L219.1 429.3 L221.6 432.1 L224.4 434.2 L228 435.62" fill="none" stroke="#000" stroke-width="1.5" stroke-linejoin="round"/><path d="M180 436.09 L182.7 434.2 L185.5 430.7 L188.3 425.7 L190.4 420.1 L191.9 414.4 L193.3 408.8 L194.7 403.1 L195.7 398.9 L196.8 394.6 L198.2 391.8 L199.3 389 L200.3 390.4 L201.3 387.6 L202.5 385.4 L203.2 387.6 L203.9 393.2 L204.6 400.3 L205.6 407.4 L206.7 413 L208.1 418.7 L209.8 424.3 L211.7 428.6 L214.1 432.1 L217.3 434.2 L221 435.69Z" fill="#505050" stroke="#111" stroke-width="0.9" stroke-linejoin="round"/><path d="M183 436.06 L185.5 434.2 L191.1 431.4 L194.7 425.7 L196.8 418.7 L198.5 413 L199.9 407.4 L201.3 401.7 L202.7 396 L203.9 390.4 L205 386.1 L206 381.9 L206.7 380.5 L207.8 383.3 L208.8 386.1 L209.8 387.6 L210.7 391.8 L211.7 397.5 L212.6 403.1 L213.8 408.8 L214.9 414.4 L216 420.1 L217.3 425 L219.1 429.3 L221.6 432.1 L224.4 434.2 L228 435.62" fill="none" stroke="#bdbdbd" stroke-width="0.8" clip-path="url(#c31)"/><path d="M159.3 434.93 L160.2 435.24 L161.1 434.79 L162 435.77 L162.9 434.81 L163.8 435.29 L164.7 434.93 L165.6 435.58 L166.5 435.3 L167.4 435.41 L168.3 435.31 L169.2 434.71 L170.1 435.08 L171 434.33 L171.9 434.89 L172.8 435.42 L173.7 434.83 L174.6 434.95 L175.5 435.52 L176.4 434.93 L177.3 435.7 L178.2 435.15 L179.1 434.89 L180 434.66 L180.9 434.24 L181.8 434.75 L182.7 435.63 L183.6 434.94 L184.5 435.27 L185.4 434.52 L186.3 434.29 L187.2 435.49 L188.1 434.45 L189 435.16 L189.9 435.32 L190.8 434.9 L191.7 434.95 L192.6 435.13 L193.5 435.16 L194.4 434.9 L195.3 434.51 L196.2 435.28 L197.1 434.96 L198 435.15 L198.9 434.41 L199.8 435.12 L200.7 434.38 L201.6 435.43 L202.5 434.19 L203.4 434.82 L204.3 434.05 L205.2 434.25 L206.1 434.17 L207 435.38 L207.9 434.29 L208.8 434.62 L209.7 434.07 L210.6 434.54 L211.5 434.86 L212.4 434.02 L213.3 433.87 L214.2 435.02 L215.1 435.13 L216 434.67 L216.9 434.34 L217.8 435.08 L218.7 434.43 L219.6 434.49 L220.5 434.09 L221.4 435.07 L222.3 435.06 L223.2 434.49 L224.1 434.13 L225 434.37 L225.9 434.12 L226.8 434.83 L227.7 435.17 L228.6 434.18 L229.5 434.23 L230.4 435.15 L231.3 435.06 L232.2 434.13 L233.1 434.17 L234 434.85 L234.9 434.76 L235.8 434.51 L236.7 435.1 L237.6 434.67 L238.5 434.76 L239.4 435.04 L240.3 434.31 L241.2 433.68 L242.1 434.96 L243 434.03 L243.9 434.14 L244.8 434.63 L245.7 434.08 L246.6 433.88 L247.5 434.64 L248.4 434.4 L249.3 434.07" fill="none" stroke="#222" stroke-width="0.7"/></g>
<g transform="matrix(0.99029 -0.00971 0.01203 1.00752 157.70000 369.30000)"><rect x="0" y="0" width="92.7" height="66.5" fill="none" stroke="#111" stroke-width="1.1"/><path d="M-4 66H0M-2 63.38H0M-2 60.76H0M-2 58.14H0M-2 55.52H0M-4 52.9H0M-2 50.28H0M-2 47.66H0M-2 45.04H0M-2 42.42H0M-4 39.8H0M-2 37.18H0M-2 34.56H0M-2 31.94H0M-2 29.32H0M-4 26.7H0M-2 24.08H0M-2 21.46H0M-2 18.84H0M-2 16.22H0M-4 13.6H0M-2 10.98H0M-2 8.36H0M-2 5.74H0M-2 3.12H0M-4 0.5H0M0 66.5V70.3M6.98 66.5V68.9M11.06 66.5V68.9M13.95 66.5V68.9M16.2 66.5V68.9M18.03 66.5V68.9M19.59 66.5V68.9M20.93 66.5V68.9M22.11 66.5V68.9M23.18 66.5V70.3M30.15 66.5V68.9M34.23 66.5V68.9M37.13 66.5V68.9M39.37 66.5V68.9M41.21 66.5V68.9M42.76 66.5V68.9M44.1 66.5V68.9M45.29 66.5V68.9M46.35 66.5V70.3M53.33 66.5V68.9M57.41 66.5V68.9M60.3 66.5V68.9M62.55 66.5V68.9M64.38 66.5V68.9M65.94 66.5V68.9M67.28 66.5V68.9M68.46 66.5V68.9M69.53 66.5V70.3M76.5 66.5V68.9M80.58 66.5V68.9M83.48 66.5V68.9M85.72 66.5V68.9M87.56 66.5V68.9M89.11 66.5V68.9M90.45 66.5V68.9M91.64 66.5V68.9M92.7 66.5V70.3" stroke="#000" stroke-width="1" fill="none"/><text transform="translate(-7.1 64.8) rotate(-90)" text-anchor="middle" style="font-family:&quot;Liberation Sans&quot;,sans-serif;stroke:#000;stroke-width:0.35px;font-size:7px" fill="#000">0</text><text transform="translate(-7.1 51.7) rotate(-90)" text-anchor="middle" style="font-family:&quot;Liberation Sans&quot;,sans-serif;stroke:#000;stroke-width:0.35px;font-size:7px" fill="#000">10</text><text transform="translate(-7.1 38.6) rotate(-90)" text-anchor="middle" style="font-family:&quot;Liberation Sans&quot;,sans-serif;stroke:#000;stroke-width:0.35px;font-size:7px" fill="#000">20</text><text transform="translate(-7.1 25.5) rotate(-90)" text-anchor="middle" style="font-family:&quot;Liberation Sans&quot;,sans-serif;stroke:#000;stroke-width:0.35px;font-size:7px" fill="#000">30</text><text transform="translate(-7.1 12.4) rotate(-90)" text-anchor="middle" style="font-family:&quot;Liberation Sans&quot;,sans-serif;stroke:#000;stroke-width:0.35px;font-size:7px" fill="#000">40</text><text transform="translate(-7.1 -0.7) rotate(-90)" text-anchor="middle" style="font-family:&quot;Liberation Sans&quot;,sans-serif;stroke:#000;stroke-width:0.35px;font-size:7px" fill="#000">50</text><text transform="translate(-15.9 34.25) rotate(-90)" text-anchor="middle" style="font-family:&quot;Liberation Sans&quot;,sans-serif;stroke:#000;stroke-width:0.35px;font-size:8px" fill="#000">Counts</text><text x="0.6" y="79.8" text-anchor="middle" style="font-family:&quot;Liberation Sans&quot;,sans-serif;stroke:#000;stroke-width:0.35px;font-size:7.4px;letter-spacing:0.35px" fill="#000">10<tspan dy="-3.6">0</tspan></text><text x="23.78" y="79.8" text-anchor="middle" style="font-family:&quot;Liberation Sans&quot;,sans-serif;stroke:#000;stroke-width:0.35px;font-size:7.4px;letter-spacing:0.35px" fill="#000">10<tspan dy="-3.6">1</tspan></text><text x="46.95" y="79.8" text-anchor="middle" style="font-family:&quot;Liberation Sans&quot;,sans-serif;stroke:#000;stroke-width:0.35px;font-size:7.4px;letter-spacing:0.35px" fill="#000">10<tspan dy="-3.6">2</tspan></text><text x="70.12" y="79.8" text-anchor="middle" style="font-family:&quot;Liberation Sans&quot;,sans-serif;stroke:#000;stroke-width:0.35px;font-size:7.4px;letter-spacing:0.35px" fill="#000">10<tspan dy="-3.6">3</tspan></text><text x="93.3" y="79.8" text-anchor="middle" style="font-family:&quot;Liberation Sans&quot;,sans-serif;stroke:#000;stroke-width:0.35px;font-size:7.4px;letter-spacing:0.35px" fill="#000">10<tspan dy="-3.6">4</tspan></text><text x="45.35" y="87.8" text-anchor="middle" style="font-family:&quot;Liberation Sans&quot;,sans-serif;stroke:#000;stroke-width:0.35px;font-size:7.5px" fill="#000">FL1-H</text></g>
<text x="208.7" y="380.4" style="font-family:&quot;Liberation Serif&quot;,serif;font-weight:bold;font-size:9px" fill="#111">SDF-1α</text>
<g><path d="M305 437.82 L307.6 435.4 L311.5 433.4 L314.7 430.8 L316.7 428.2 L317.7 423.6 L318.6 421 L319.6 417.1 L320.6 411.9 L321.6 406.7 L322.6 401.5 L323.2 396.3 L323.9 391 L324.8 388.4 L325.8 385.8 L326.9 382.6 L327.8 385.2 L328.7 383.2 L329.7 387.1 L330.4 391 L331 396.3 L331.7 401.5 L332.3 406.7 L333.4 411.9 L334.4 417.1 L335.6 422.3 L336.9 426.9 L338.6 430.8 L340.2 432.1 L342.8 432.8 L346.5 433.6 L354.2 434.5 L365 435.8 L380 437.9" fill="none" stroke="#000" stroke-width="1.5" stroke-linejoin="round"/><path d="M290 437.8 L293.2 435.4 L295.8 431.5 L297.8 427.5 L299.7 422.3 L301 417.1 L302.3 411.9 L303.6 406.7 L304.9 401.5 L306.3 396.3 L307.6 392.3 L308.9 387.1 L309.9 391 L311.2 393.6 L312.5 396.3 L313.4 400.2 L314.3 405.4 L315.4 410.6 L316.4 415.8 L317.7 421 L319.3 426.2 L321.2 430.2 L323.9 432.8 L327.1 434.7 L331 437.85Z" fill="#505050" stroke="#111" stroke-width="0.9" stroke-linejoin="round"/><path d="M305 437.82 L307.6 435.4 L311.5 433.4 L314.7 430.8 L316.7 428.2 L317.7 423.6 L318.6 421 L319.6 417.1 L320.6 411.9 L321.6 406.7 L322.6 401.5 L323.2 396.3 L323.9 391 L324.8 388.4 L325.8 385.8 L326.9 382.6 L327.8 385.2 L328.7 383.2 L329.7 387.1 L330.4 391 L331 396.3 L331.7 401.5 L332.3 406.7 L333.4 411.9 L334.4 417.1 L335.6 422.3 L336.9 426.9 L338.6 430.8 L340.2 432.1 L342.8 432.8 L346.5 433.6 L354.2 434.5 L365 435.8 L380 437.9" fill="none" stroke="#bdbdbd" stroke-width="0.8" clip-path="url(#c32)"/><path d="M288.6 437.09 L289.5 436.82 L290.4 437.11 L291.3 436.81 L292.2 436.56 L293.1 436.44 L294 437.02 L294.9 436.87 L295.8 437.14 L296.7 436.19 L297.6 436.97 L298.5 436.09 L299.4 437.3 L300.3 437.4 L301.2 436.78 L302.1 436.78 L303 436.29 L303.9 436.12 L304.8 436.65 L305.7 436.97 L306.6 436.35 L307.5 436.73 L308.4 437.04 L309.3 436.94 L310.2 437.42 L311.1 436.36 L312 437.36 L312.9 437.15 L313.8 436.5 L314.7 436.5 L315.6 436.5 L316.5 436.48 L317.4 436.23 L318.3 436.02 L319.2 435.98 L320.1 436.85 L321 436.91 L321.9 437.23 L322.8 436.79 L323.7 437.18 L324.6 436.04 L325.5 436.31 L326.4 437.09 L327.3 436.41 L328.2 436.4 L329.1 437.3 L330 436.23 L330.9 436.35 L331.8 436.74 L332.7 436.03 L333.6 437.32 L334.5 437.4 L335.4 436.37 L336.3 436.45 L337.2 437.45 L338.1 436.55 L339 436.57 L339.9 436.89 L340.8 437.27 L341.7 436.23 L342.6 436.12 L343.5 436.63 L344.4 437.13 L345.3 436.65 L346.2 436.49 L347.1 436.69 L348 436.26 L348.9 437.13 L349.8 436.14 L350.7 436.39 L351.6 437.27 L352.5 437.34 L353.4 436.3 L354.3 436.98 L355.2 436.12 L356.1 436.08 L357 437.05 L357.9 436.37 L358.8 437.15 L359.7 436.73 L360.6 437.19 L361.5 436.28 L362.4 437.27 L363.3 436.1 L364.2 436.94 L365.1 437.06 L366 437.43 L366.9 437.17 L367.8 437.39 L368.7 437.15 L369.6 436.02 L370.5 436.51 L371.4 437.32 L372.3 437.33 L373.2 436.8 L374.1 436.18 L375 436.81 L375.9 436.96 L376.8 436.5 L377.7 437.31 L378.6 437.22" fill="none" stroke="#222" stroke-width="0.7"/></g>
<g transform="matrix(0.99676 0.00108 0.00602 1.00301 287.40000 371.10000)"><rect x="0" y="0" width="92.7" height="66.5" fill="none" stroke="#111" stroke-width="1.1"/><path d="M-4 66H0M-2 63.38H0M-2 60.76H0M-2 58.14H0M-2 55.52H0M-4 52.9H0M-2 50.28H0M-2 47.66H0M-2 45.04H0M-2 42.42H0M-4 39.8H0M-2 37.18H0M-2 34.56H0M-2 31.94H0M-2 29.32H0M-4 26.7H0M-2 24.08H0M-2 21.46H0M-2 18.84H0M-2 16.22H0M-4 13.6H0M-2 10.98H0M-2 8.36H0M-2 5.74H0M-2 3.12H0M-4 0.5H0M0 66.5V70.3M6.98 66.5V68.9M11.06 66.5V68.9M13.95 66.5V68.9M16.2 66.5V68.9M18.03 66.5V68.9M19.59 66.5V68.9M20.93 66.5V68.9M22.11 66.5V68.9M23.18 66.5V70.3M30.15 66.5V68.9M34.23 66.5V68.9M37.13 66.5V68.9M39.37 66.5V68.9M41.21 66.5V68.9M42.76 66.5V68.9M44.1 66.5V68.9M45.29 66.5V68.9M46.35 66.5V70.3M53.33 66.5V68.9M57.41 66.5V68.9M60.3 66.5V68.9M62.55 66.5V68.9M64.38 66.5V68.9M65.94 66.5V68.9M67.28 66.5V68.9M68.46 66.5V68.9M69.53 66.5V70.3M76.5 66.5V68.9M80.58 66.5V68.9M83.48 66.5V68.9M85.72 66.5V68.9M87.56 66.5V68.9M89.11 66.5V68.9M90.45 66.5V68.9M91.64 66.5V68.9M92.7 66.5V70.3" stroke="#000" stroke-width="1" fill="none"/><text transform="translate(-7.1 64.8) rotate(-90)" text-anchor="middle" style="font-family:&quot;Liberation Sans&quot;,sans-serif;stroke:#000;stroke-width:0.35px;font-size:7px" fill="#000">0</text><text transform="translate(-7.1 51.7) rotate(-90)" text-anchor="middle" style="font-family:&quot;Liberation Sans&quot;,sans-serif;stroke:#000;stroke-width:0.35px;font-size:7px" fill="#000">10</text><text transform="translate(-7.1 38.6) rotate(-90)" text-anchor="middle" style="font-family:&quot;Liberation Sans&quot;,sans-serif;stroke:#000;stroke-width:0.35px;font-size:7px" fill="#000">20</text><text transform="translate(-7.1 25.5) rotate(-90)" text-anchor="middle" style="font-family:&quot;Liberation Sans&quot;,sans-serif;stroke:#000;stroke-width:0.35px;font-size:7px" fill="#000">30</text><text transform="translate(-7.1 12.4) rotate(-90)" text-anchor="middle" style="font-family:&quot;Liberation Sans&quot;,sans-serif;stroke:#000;stroke-width:0.35px;font-size:7px" fill="#000">40</text><text transform="translate(-7.1 -0.7) rotate(-90)" text-anchor="middle" style="font-family:&quot;Liberation Sans&quot;,sans-serif;stroke:#000;stroke-width:0.35px;font-size:7px" fill="#000">50</text><text transform="translate(-15.9 34.25) rotate(-90)" text-anchor="middle" style="font-family:&quot;Liberation Sans&quot;,sans-serif;stroke:#000;stroke-width:0.35px;font-size:8px" fill="#000">Counts</text><text x="0.6" y="79.8" text-anchor="middle" style="font-family:&quot;Liberation Sans&quot;,sans-serif;stroke:#000;stroke-width:0.35px;font-size:7.4px;letter-spacing:0.35px" fill="#000">10<tspan dy="-3.6">0</tspan></text><text x="23.78" y="79.8" text-anchor="middle" style="font-family:&quot;Liberation Sans&quot;,sans-serif;stroke:#000;stroke-width:0.35px;font-size:7.4px;letter-spacing:0.35px" fill="#000">10<tspan dy="-3.6">1</tspan></text><text x="46.95" y="79.8" text-anchor="middle" style="font-family:&quot;Liberation Sans&quot;,sans-serif;stroke:#000;stroke-width:0.35px;font-size:7.4px;letter-spacing:0.35px" fill="#000">10<tspan dy="-3.6">2</tspan></text><text x="70.12" y="79.8" text-anchor="middle" style="font-family:&quot;Liberation Sans&quot;,sans-serif;stroke:#000;stroke-width:0.35px;font-size:7.4px;letter-spacing:0.35px" fill="#000">10<tspan dy="-3.6">3</tspan></text><text x="93.3" y="79.8" text-anchor="middle" style="font-family:&quot;Liberation Sans&quot;,sans-serif;stroke:#000;stroke-width:0.35px;font-size:7.4px;letter-spacing:0.35px" fill="#000">10<tspan dy="-3.6">4</tspan></text><text x="45.35" y="87.8" text-anchor="middle" style="font-family:&quot;Liberation Sans&quot;,sans-serif;stroke:#000;stroke-width:0.35px;font-size:7.5px" fill="#000">FL1-H</text></g>
<text x="338.5" y="380.4" style="font-family:&quot;Liberation Serif&quot;,serif;font-weight:bold;font-size:9px" fill="#111">SDF-1α</text>
<g><path d="M455 433.62 L457.3 432.1 L459.3 426.7 L460.3 421.3 L461.1 417.3 L462 413.3 L463 409.2 L464 405.2 L465.1 402.5 L466 401.2 L467 398.5 L467.8 395.8 L468.7 393.7 L469.7 397.1 L470.8 399.8 L471.8 398.5 L472.8 401.2 L473.7 402.5 L474.8 403.8 L475.9 406.5 L476.8 407.9 L477.8 406.5 L478.6 409.2 L479.5 413.3 L480.5 417.3 L481.5 421.3 L482.6 425.4 L483.9 428.1 L485.6 430.1 L488.3 431.4 L494 433.88" fill="none" stroke="#000" stroke-width="1.5" stroke-linejoin="round"/><path d="M427 433.44 L430.4 432.1 L432.4 428.1 L434.4 425.4 L435.8 421.3 L437.1 414.6 L437.8 409.2 L438.5 403.8 L439.1 401.8 L440.1 403.8 L441.2 399.8 L442.2 397.1 L443.2 398.5 L444.1 394.4 L445.2 398.5 L446.3 399.8 L447.2 397.8 L448.1 399.8 L449.2 399.1 L450.3 401.2 L451.4 402.5 L452.6 403.8 L453.5 407.9 L454.6 410.6 L455.7 413.3 L456.6 417.3 L457.3 422.7 L458 426.7 L459.3 429.4 L462 431.4 L466 433.69Z" fill="#505050" stroke="#111" stroke-width="0.9" stroke-linejoin="round"/><path d="M455 433.62 L457.3 432.1 L459.3 426.7 L460.3 421.3 L461.1 417.3 L462 413.3 L463 409.2 L464 405.2 L465.1 402.5 L466 401.2 L467 398.5 L467.8 395.8 L468.7 393.7 L469.7 397.1 L470.8 399.8 L471.8 398.5 L472.8 401.2 L473.7 402.5 L474.8 403.8 L475.9 406.5 L476.8 407.9 L477.8 406.5 L478.6 409.2 L479.5 413.3 L480.5 417.3 L481.5 421.3 L482.6 425.4 L483.9 428.1 L485.6 430.1 L488.3 431.4 L494 433.88" fill="none" stroke="#bdbdbd" stroke-width="0.8" clip-path="url(#c33)"/><path d="M421.7 432.32 L422.6 431.69 L423.5 432.97 L424.4 432.6 L425.3 431.59 L426.2 432.04 L427.1 432.85 L428 432.52 L428.9 431.73 L429.8 432.4 L430.7 433.02 L431.6 431.73 L432.5 432.88 L433.4 432.12 L434.3 432.16 L435.2 432.4 L436.1 431.66 L437 432.84 L437.9 432.2 L438.8 432.95 L439.7 431.67 L440.6 432.91 L441.5 432.36 L442.4 431.89 L443.3 431.82 L444.2 433.01 L445.1 431.84 L446 431.9 L446.9 432.7 L447.8 432.04 L448.7 432.84 L449.6 432.96 L450.5 432.95 L451.4 432.74 L452.3 431.97 L453.2 432.52 L454.1 431.73 L455 431.88 L455.9 432.91 L456.8 432.58 L457.7 433.14 L458.6 432.37 L459.5 432.34 L460.4 432.38 L461.3 433.13 L462.2 432.35 L463.1 433.11 L464 432.02 L464.9 432.59 L465.8 433.14 L466.7 431.83 L467.6 431.89 L468.5 432.81 L469.4 431.92 L470.3 432.89 L471.2 432.53 L472.1 432.47 L473 432.15 L473.9 433.24 L474.8 433.3 L475.7 433.13 L476.6 432.79 L477.5 432.17 L478.4 432.29 L479.3 433.22 L480.2 432.29 L481.1 433.11 L482 433.37 L482.9 432.69 L483.8 432.05 L484.7 432.06 L485.6 432.76 L486.5 432.23 L487.4 433.14 L488.3 433.2 L489.2 432.01 L490.1 432.44 L491 433.2 L491.9 432.96 L492.8 432.31 L493.7 433.39 L494.6 433.2 L495.5 432.28 L496.4 433.14 L497.3 432.87 L498.2 432.86 L499.1 432.8 L500 433.05 L500.9 433.15 L501.8 432.33 L502.7 432.39 L503.6 432.12 L504.5 433.48 L505.4 433.31 L506.3 432.28 L507.2 433.09 L508.1 432.38 L509 433.12 L509.9 432.99 L510.8 432.58 L511.7 432.95" fill="none" stroke="#222" stroke-width="0.7"/></g>
<g transform="matrix(0.99245 0.00647 0.00602 1.00301 420.50000 366.70000)"><rect x="0" y="0" width="92.7" height="66.5" fill="none" stroke="#111" stroke-width="1.1"/><path d="M-4 66H0M-2 63.38H0M-2 60.76H0M-2 58.14H0M-2 55.52H0M-4 52.9H0M-2 50.28H0M-2 47.66H0M-2 45.04H0M-2 42.42H0M-4 39.8H0M-2 37.18H0M-2 34.56H0M-2 31.94H0M-2 29.32H0M-4 26.7H0M-2 24.08H0M-2 21.46H0M-2 18.84H0M-2 16.22H0M-4 13.6H0M-2 10.98H0M-2 8.36H0M-2 5.74H0M-2 3.12H0M-4 0.5H0M0 66.5V70.3M6.98 66.5V68.9M11.06 66.5V68.9M13.95 66.5V68.9M16.2 66.5V68.9M18.03 66.5V68.9M19.59 66.5V68.9M20.93 66.5V68.9M22.11 66.5V68.9M23.18 66.5V70.3M30.15 66.5V68.9M34.23 66.5V68.9M37.13 66.5V68.9M39.37 66.5V68.9M41.21 66.5V68.9M42.76 66.5V68.9M44.1 66.5V68.9M45.29 66.5V68.9M46.35 66.5V70.3M53.33 66.5V68.9M57.41 66.5V68.9M60.3 66.5V68.9M62.55 66.5V68.9M64.38 66.5V68.9M65.94 66.5V68.9M67.28 66.5V68.9M68.46 66.5V68.9M69.53 66.5V70.3M76.5 66.5V68.9M80.58 66.5V68.9M83.48 66.5V68.9M85.72 66.5V68.9M87.56 66.5V68.9M89.11 66.5V68.9M90.45 66.5V68.9M91.64 66.5V68.9M92.7 66.5V70.3" stroke="#000" stroke-width="1" fill="none"/><text transform="translate(-7.1 64.8) rotate(-90)" text-anchor="middle" style="font-family:&quot;Liberation Sans&quot;,sans-serif;stroke:#000;stroke-width:0.35px;font-size:7px" fill="#000">0</text><text transform="translate(-7.1 51.7) rotate(-90)" text-anchor="middle" style="font-family:&quot;Liberation Sans&quot;,sans-serif;stroke:#000;stroke-width:0.35px;font-size:7px" fill="#000">10</text><text transform="translate(-7.1 38.6) rotate(-90)" text-anchor="middle" style="font-family:&quot;Liberation Sans&quot;,sans-serif;stroke:#000;stroke-width:0.35px;font-size:7px" fill="#000">20</text><text transform="translate(-7.1 25.5) rotate(-90)" text-anchor="middle" style="font-family:&quot;Liberation Sans&quot;,sans-serif;stroke:#000;stroke-width:0.35px;font-size:7px" fill="#000">30</text><text transform="translate(-7.1 12.4) rotate(-90)" text-anchor="middle" style="font-family:&quot;Liberation Sans&quot;,sans-serif;stroke:#000;stroke-width:0.35px;font-size:7px" fill="#000">40</text><text transform="translate(-7.1 -0.7) rotate(-90)" text-anchor="middle" style="font-family:&quot;Liberation Sans&quot;,sans-serif;stroke:#000;stroke-width:0.35px;font-size:7px" fill="#000">50</text><text transform="translate(-15.9 34.25) rotate(-90)" text-anchor="middle" style="font-family:&quot;Liberation Sans&quot;,sans-serif;stroke:#000;stroke-width:0.35px;font-size:8px" fill="#000">Counts</text><text x="0.6" y="79.8" text-anchor="middle" style="font-family:&quot;Liberation Sans&quot;,sans-serif;stroke:#000;stroke-width:0.35px;font-size:7.4px;letter-spacing:0.35px" fill="#000">10<tspan dy="-3.6">0</tspan></text><text x="23.78" y="79.8" text-anchor="middle" style="font-family:&quot;Liberation Sans&quot;,sans-serif;stroke:#000;stroke-width:0.35px;font-size:7.4px;letter-spacing:0.35px" fill="#000">10<tspan dy="-3.6">1</tspan></text><text x="46.95" y="79.8" text-anchor="middle" style="font-family:&quot;Liberation Sans&quot;,sans-serif;stroke:#000;stroke-width:0.35px;font-size:7.4px;letter-spacing:0.35px" fill="#000">10<tspan dy="-3.6">2</tspan></text><text x="70.12" y="79.8" text-anchor="middle" style="font-family:&quot;Liberation Sans&quot;,sans-serif;stroke:#000;stroke-width:0.35px;font-size:7.4px;letter-spacing:0.35px" fill="#000">10<tspan dy="-3.6">3</tspan></text><text x="93.3" y="79.8" text-anchor="middle" style="font-family:&quot;Liberation Sans&quot;,sans-serif;stroke:#000;stroke-width:0.35px;font-size:7.4px;letter-spacing:0.35px" fill="#000">10<tspan dy="-3.6">4</tspan></text><text x="45.35" y="87.8" text-anchor="middle" style="font-family:&quot;Liberation Sans&quot;,sans-serif;stroke:#000;stroke-width:0.35px;font-size:7.5px" fill="#000">FL1-H</text></g>
<text x="473.3" y="379.3" style="font-family:&quot;Liberation Serif&quot;,serif;font-weight:bold;font-size:9px" fill="#111">SDF-1α</text>
</g></svg></body></html>
